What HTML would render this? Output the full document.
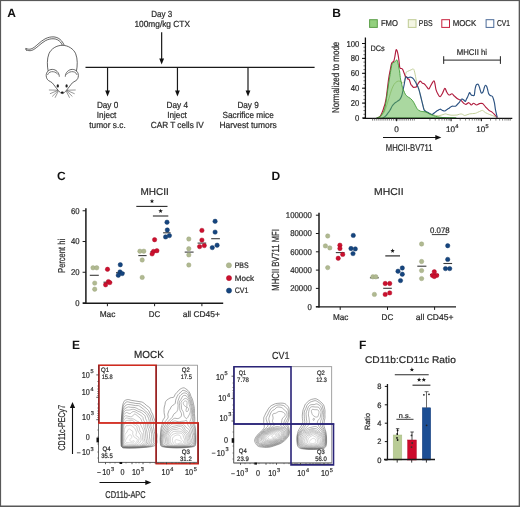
<!DOCTYPE html>
<html><head><meta charset="utf-8"><style>
html,body{margin:0;padding:0;background:#fff;}
body{width:520px;height:507px;overflow:hidden;}
svg{display:block;font-family:"Liberation Sans",sans-serif;will-change:transform;text-rendering:geometricPrecision;}
</style></head><body>
<svg width="520" height="507" viewBox="0 0 520 507" fill="#2b2b2b">
<rect x="0" y="0" width="520" height="507" fill="#fff"/>
<text x="7.20" y="17.00" font-size="12" font-weight="bold" fill="#111" >A</text>
<g fill="none" stroke="#333" stroke-width="0.75" stroke-linejoin="round" stroke-linecap="round">
<path d="M25.9,48.6 C27.5,49.2 29.5,49.4 31,49.0 C33.5,48.2 35.5,46.3 37.9,44.2 C40,42.3 42.5,40.2 45,38.9 C48,37.3 51,36.7 54,36.9 C57,37.2 59.6,38.6 61.5,40.8 C62.6,42.1 63.6,43.8 64.3,45.3" />
<path d="M26.4,50.1 C28,50.6 29.8,50.9 31.4,50.5 C34,49.8 36.2,47.8 38.6,45.8 C40.8,43.9 43.2,41.9 45.6,40.6 C48.4,39.1 51.2,38.6 54,38.8 C56.6,39.0 58.8,40.2 60.4,42.0 C61.3,43.1 62,44.3 62.6,45.7" />
<path d="M25.9,48.6 C25.3,49.2 25.6,49.9 26.4,50.1" />
<path d="M48.2,71.5 C47.0,65.5 46.9,59 48.9,53.8 C51,48.8 56.6,45.3 62.3,45.3 C68.0,45.3 73.6,48.8 75.7,53.8 C77.7,59 77.6,65.5 76.4,71.5" fill="#fff"/>
<path d="M59.3,76.3 C59.2,72.5 56,69.4 52.3,69.4 C48.5,69.4 46.1,72.4 46.2,75.6 C46.3,78 47.2,79.6 48.6,80.6 C50,81.6 51.4,82 52.2,82.8 C54.5,85.5 56.5,88.5 58.4,90.6 C59.6,92 60.8,93.4 62.3,93.6 C63.8,93.4 65,92 66.2,90.6 C68.1,88.5 70.1,85.5 72.4,82.8 C73.2,82 74.6,81.6 76,80.6 C77.4,79.6 78.3,78 78.4,75.6 C78.5,72.4 76.1,69.4 72.3,69.4 C68.6,69.4 65.4,72.5 65.3,76.3" fill="#fff"/>
<path d="M47.6,74.6 C48.6,72.2 51,71.4 53.2,71.7 C55.3,72 57,73 57.9,74.3" stroke="#777" stroke-width="1.0"/>
<path d="M77.0,74.6 C76.0,72.2 73.6,71.4 71.4,71.7 C69.3,72 67.6,73 66.7,74.3" stroke="#777" stroke-width="1.0"/>
<path d="M57.4,90.2 L49.3,90.0 M57.4,90.6 L50.3,93.6 M57.8,91.0 L52.5,96.2 M58.2,91.4 L55.2,97.4 M67.2,90.2 L75.3,90.0 M67.2,90.6 L74.3,93.6 M66.8,91.0 L72.1,96.2 M66.4,91.4 L69.4,97.4" stroke-width="0.55" stroke="#444"/>
</g>
<ellipse cx="57.8" cy="85.9" rx="1.15" ry="1.6" fill="#222"/>
<ellipse cx="66.6" cy="85.9" rx="1.15" ry="1.6" fill="#222"/>
<ellipse cx="62.3" cy="92.6" rx="1.4" ry="1.0" fill="#111"/>
<line x1="85.50" y1="67.40" x2="314.60" y2="67.40" stroke="#1a1a1a" stroke-width="1.25"/>
<line x1="161.65" y1="32.30" x2="161.65" y2="60.60" stroke="#1a1a1a" stroke-width="1.2"/>
<path d="M159.25,58.60 L164.05,58.60 L161.65,64.60 Z" fill="#111"/>
<line x1="107.55" y1="67.40" x2="107.55" y2="92.60" stroke="#1a1a1a" stroke-width="1.2"/>
<path d="M105.15,90.60 L109.95,90.60 L107.55,96.60 Z" fill="#111"/>
<line x1="177.45" y1="67.40" x2="177.45" y2="92.60" stroke="#1a1a1a" stroke-width="1.2"/>
<path d="M175.05,90.60 L179.85,90.60 L177.45,96.60 Z" fill="#111"/>
<line x1="248.00" y1="67.40" x2="248.00" y2="92.60" stroke="#1a1a1a" stroke-width="1.2"/>
<path d="M245.60,90.60 L250.40,90.60 L248.00,96.60 Z" fill="#111"/>
<text x="161.70" y="17.00" font-size="8.9" text-anchor="middle" stroke="#2b2b2b" stroke-width="0.22" textLength="21.00" lengthAdjust="spacingAndGlyphs" >Day 3</text>
<text x="162.20" y="27.40" font-size="8.9" text-anchor="middle" stroke="#2b2b2b" stroke-width="0.22" textLength="55.60" lengthAdjust="spacingAndGlyphs" >100mg/kg CTX</text>
<text x="107.60" y="108.00" font-size="8.9" text-anchor="middle" stroke="#2b2b2b" stroke-width="0.22" textLength="21.40" lengthAdjust="spacingAndGlyphs" >Day 0</text>
<text x="106.60" y="117.90" font-size="8.9" text-anchor="middle" stroke="#2b2b2b" stroke-width="0.22" textLength="19.60" lengthAdjust="spacingAndGlyphs" >Inject</text>
<text x="107.50" y="127.80" font-size="8.9" text-anchor="middle" stroke="#2b2b2b" stroke-width="0.22" textLength="36.40" lengthAdjust="spacingAndGlyphs" >tumor s.c.</text>
<text x="177.30" y="108.00" font-size="8.9" text-anchor="middle" stroke="#2b2b2b" stroke-width="0.22" textLength="21.50" lengthAdjust="spacingAndGlyphs" >Day 4</text>
<text x="177.00" y="117.90" font-size="8.9" text-anchor="middle" stroke="#2b2b2b" stroke-width="0.22" textLength="19.60" lengthAdjust="spacingAndGlyphs" >Inject</text>
<text x="177.30" y="127.80" font-size="8.9" text-anchor="middle" stroke="#2b2b2b" stroke-width="0.22" textLength="53.00" lengthAdjust="spacingAndGlyphs" >CAR T cells IV</text>
<text x="248.10" y="108.00" font-size="8.9" text-anchor="middle" stroke="#2b2b2b" stroke-width="0.22" textLength="21.30" lengthAdjust="spacingAndGlyphs" >Day 9</text>
<text x="248.10" y="117.90" font-size="8.9" text-anchor="middle" stroke="#2b2b2b" stroke-width="0.22" textLength="51.30" lengthAdjust="spacingAndGlyphs" >Sacrifice mice</text>
<text x="248.10" y="127.80" font-size="8.9" text-anchor="middle" stroke="#2b2b2b" stroke-width="0.22" textLength="57.20" lengthAdjust="spacingAndGlyphs" >Harvest tumors</text>
<text x="332.20" y="16.90" font-size="12" font-weight="bold" fill="#111" >B</text>
<rect x="369.6" y="19.7" width="7.7" height="7.7" fill="#93d07e" stroke="#5b9e48" stroke-width="1.0"/>
<rect x="408.3" y="19.7" width="7.7" height="7.7" fill="#f4f6e4" stroke="#bfcb94" stroke-width="1.0"/>
<rect x="441.8" y="19.7" width="7.7" height="7.7" fill="#fff" stroke="#c8203c" stroke-width="1.0"/>
<rect x="486.1" y="19.7" width="7.7" height="7.7" fill="#fff" stroke="#4b6a98" stroke-width="1.0"/>
<text x="380.90" y="25.90" font-size="8.5" stroke="#2b2b2b" stroke-width="0.22" textLength="17.00" lengthAdjust="spacingAndGlyphs" >FMO</text>
<text x="418.80" y="25.90" font-size="8.5" stroke="#2b2b2b" stroke-width="0.22" textLength="13.80" lengthAdjust="spacingAndGlyphs" >PBS</text>
<text x="452.70" y="25.90" font-size="8.5" stroke="#2b2b2b" stroke-width="0.22" textLength="23.50" lengthAdjust="spacingAndGlyphs" >MOCK</text>
<text x="497.00" y="25.90" font-size="8.5" stroke="#2b2b2b" stroke-width="0.22" textLength="13.00" lengthAdjust="spacingAndGlyphs" >CV1</text>
<line x1="363.40" y1="118.00" x2="365.40" y2="118.00" stroke="#444" stroke-width="0.75"/>
<line x1="363.40" y1="114.28" x2="365.40" y2="114.28" stroke="#444" stroke-width="0.75"/>
<line x1="363.40" y1="110.55" x2="365.40" y2="110.55" stroke="#444" stroke-width="0.75"/>
<line x1="363.40" y1="106.83" x2="365.40" y2="106.83" stroke="#444" stroke-width="0.75"/>
<line x1="363.40" y1="103.10" x2="365.40" y2="103.10" stroke="#444" stroke-width="0.75"/>
<line x1="363.40" y1="99.38" x2="365.40" y2="99.38" stroke="#444" stroke-width="0.75"/>
<line x1="363.40" y1="95.65" x2="365.40" y2="95.65" stroke="#444" stroke-width="0.75"/>
<line x1="363.40" y1="91.92" x2="365.40" y2="91.92" stroke="#444" stroke-width="0.75"/>
<line x1="363.40" y1="88.20" x2="365.40" y2="88.20" stroke="#444" stroke-width="0.75"/>
<line x1="363.40" y1="84.47" x2="365.40" y2="84.47" stroke="#444" stroke-width="0.75"/>
<line x1="363.40" y1="80.75" x2="365.40" y2="80.75" stroke="#444" stroke-width="0.75"/>
<line x1="363.40" y1="77.03" x2="365.40" y2="77.03" stroke="#444" stroke-width="0.75"/>
<line x1="363.40" y1="73.30" x2="365.40" y2="73.30" stroke="#444" stroke-width="0.75"/>
<line x1="363.40" y1="69.58" x2="365.40" y2="69.58" stroke="#444" stroke-width="0.75"/>
<line x1="363.40" y1="65.85" x2="365.40" y2="65.85" stroke="#444" stroke-width="0.75"/>
<line x1="363.40" y1="62.12" x2="365.40" y2="62.12" stroke="#444" stroke-width="0.75"/>
<line x1="363.40" y1="58.40" x2="365.40" y2="58.40" stroke="#444" stroke-width="0.75"/>
<line x1="363.40" y1="54.67" x2="365.40" y2="54.67" stroke="#444" stroke-width="0.75"/>
<line x1="363.40" y1="50.95" x2="365.40" y2="50.95" stroke="#444" stroke-width="0.75"/>
<line x1="363.40" y1="47.22" x2="365.40" y2="47.22" stroke="#444" stroke-width="0.75"/>
<line x1="363.40" y1="43.50" x2="365.40" y2="43.50" stroke="#444" stroke-width="0.75"/>
<line x1="362.00" y1="118.00" x2="365.40" y2="118.00" stroke="#111" stroke-width="1.0"/>
<text x="359.40" y="121.00" font-size="8.6" text-anchor="end" stroke="#2b2b2b" stroke-width="0.22" textLength="4.30" lengthAdjust="spacingAndGlyphs" >0</text>
<line x1="362.00" y1="103.10" x2="365.40" y2="103.10" stroke="#111" stroke-width="1.0"/>
<text x="359.40" y="106.10" font-size="8.6" text-anchor="end" stroke="#2b2b2b" stroke-width="0.22" textLength="8.60" lengthAdjust="spacingAndGlyphs" >20</text>
<line x1="362.00" y1="88.20" x2="365.40" y2="88.20" stroke="#111" stroke-width="1.0"/>
<text x="359.40" y="91.20" font-size="8.6" text-anchor="end" stroke="#2b2b2b" stroke-width="0.22" textLength="8.60" lengthAdjust="spacingAndGlyphs" >40</text>
<line x1="362.00" y1="73.30" x2="365.40" y2="73.30" stroke="#111" stroke-width="1.0"/>
<text x="359.40" y="76.30" font-size="8.6" text-anchor="end" stroke="#2b2b2b" stroke-width="0.22" textLength="8.60" lengthAdjust="spacingAndGlyphs" >60</text>
<line x1="362.00" y1="58.40" x2="365.40" y2="58.40" stroke="#111" stroke-width="1.0"/>
<text x="359.40" y="61.40" font-size="8.6" text-anchor="end" stroke="#2b2b2b" stroke-width="0.22" textLength="8.60" lengthAdjust="spacingAndGlyphs" >80</text>
<line x1="362.00" y1="43.50" x2="365.40" y2="43.50" stroke="#111" stroke-width="1.0"/>
<text x="359.40" y="46.50" font-size="8.6" text-anchor="end" stroke="#2b2b2b" stroke-width="0.22" textLength="12.90" lengthAdjust="spacingAndGlyphs" >100</text>
<line x1="365.40" y1="37.50" x2="365.40" y2="118.50" stroke="#111" stroke-width="1.3"/>
<text x="339.30" y="77.40" font-size="10.0" text-anchor="middle" stroke="#2b2b2b" stroke-width="0.22" textLength="71.30" lengthAdjust="spacingAndGlyphs" transform="rotate(-90 339.30 77.40)" >Normalized to mode</text>
<text x="370.40" y="51.30" font-size="8.0" stroke="#2b2b2b" stroke-width="0.22" textLength="14.30" lengthAdjust="spacingAndGlyphs" >DCs</text>
<path d="M378.00,118.00 C378.50,117.67 380.00,116.92 381.00,116.00 C382.00,115.08 383.08,114.17 384.00,112.50 C384.92,110.83 385.67,108.42 386.50,106.00 C387.33,103.58 388.17,100.67 389.00,98.00 C389.83,95.33 390.67,92.25 391.50,90.00 C392.33,87.75 393.08,85.92 394.00,84.50 C394.92,83.08 396.00,82.05 397.00,81.50 C398.00,80.95 399.08,80.98 400.00,81.20 C400.92,81.42 401.85,82.67 402.50,82.80 C403.15,82.93 403.48,82.88 403.90,82.00 C404.32,81.12 404.62,79.10 405.00,77.50 C405.38,75.90 405.77,73.42 406.20,72.40 C406.63,71.38 407.10,71.68 407.60,71.40 C408.10,71.12 408.60,70.97 409.20,70.70 C409.80,70.43 410.52,70.10 411.20,69.80 C411.88,69.50 412.80,68.78 413.30,68.90 C413.80,69.02 413.90,69.62 414.20,70.50 C414.50,71.38 414.80,72.78 415.10,74.20 C415.40,75.62 415.70,77.42 416.00,79.00 C416.30,80.58 416.45,82.13 416.90,83.70 C417.35,85.27 418.12,86.43 418.70,88.40 C419.28,90.37 419.85,93.32 420.40,95.50 C420.95,97.68 421.47,99.50 422.00,101.50 C422.53,103.50 423.02,105.88 423.60,107.50 C424.18,109.12 424.77,110.28 425.50,111.20 C426.23,112.12 427.08,112.50 428.00,113.00 C428.92,113.50 430.00,113.87 431.00,114.20 C432.00,114.53 433.00,114.75 434.00,115.00 C435.00,115.25 436.00,115.62 437.00,115.70 C438.00,115.78 439.00,115.68 440.00,115.50 C441.00,115.32 442.08,114.87 443.00,114.60 C443.92,114.33 444.67,113.90 445.50,113.90 C446.33,113.90 447.08,114.38 448.00,114.60 C448.92,114.82 450.00,115.10 451.00,115.20 C452.00,115.30 453.00,115.23 454.00,115.20 C455.00,115.17 456.08,115.17 457.00,115.00 C457.92,114.83 458.75,114.37 459.50,114.20 C460.25,114.03 460.92,113.93 461.50,114.00 C462.08,114.07 462.47,114.35 463.00,114.60 C463.53,114.85 464.03,115.47 464.70,115.50 C465.37,115.53 466.20,115.07 467.00,114.80 C467.80,114.53 468.58,114.10 469.50,113.90 C470.42,113.70 471.52,113.70 472.50,113.60 C473.48,113.50 474.57,113.50 475.40,113.30 C476.23,113.10 476.82,112.70 477.50,112.40 C478.18,112.10 478.92,111.77 479.50,111.50 C480.08,111.23 480.50,110.98 481.00,110.80 C481.50,110.62 482.00,110.28 482.50,110.40 C483.00,110.52 483.50,111.12 484.00,111.50 C484.50,111.88 484.92,112.35 485.50,112.70 C486.08,113.05 486.82,113.30 487.50,113.60 C488.18,113.90 488.77,114.17 489.60,114.50 C490.43,114.83 491.52,115.20 492.50,115.60 C493.48,116.00 494.70,116.50 495.50,116.90 C496.30,117.30 497.00,117.82 497.30,118.00" stroke="#bcc98e" stroke-width="0.9" fill="none" stroke-linejoin="round" />
<path d="M377.00,118.00 C377.50,117.75 379.08,117.58 380.00,116.50 C380.92,115.42 381.83,113.08 382.50,111.50 C383.17,109.92 383.58,108.25 384.00,107.00 C384.42,105.75 384.58,105.83 385.00,104.00 C385.42,102.17 385.90,100.17 386.50,96.00 C387.10,91.83 387.98,83.33 388.60,79.00 C389.22,74.67 389.70,72.58 390.20,70.00 C390.70,67.42 391.13,64.87 391.60,63.50 C392.07,62.13 392.63,62.18 393.00,61.80 C393.37,61.42 393.50,62.00 393.80,61.20 C394.10,60.40 394.43,58.83 394.80,57.00 C395.17,55.17 395.63,51.27 396.00,50.20 C396.37,49.13 396.63,49.75 397.00,50.60 C397.37,51.45 397.85,53.43 398.20,55.30 C398.55,57.17 398.85,59.82 399.10,61.80 C399.35,63.78 399.50,66.12 399.70,67.20 C399.90,68.28 399.93,68.07 400.30,68.30 C400.67,68.53 401.50,68.40 401.90,68.60 C402.30,68.80 402.33,68.77 402.70,69.50 C403.07,70.23 403.62,71.78 404.10,73.00 C404.58,74.22 405.15,76.10 405.60,76.80 C406.05,77.50 406.43,76.83 406.80,77.20 C407.17,77.57 407.40,78.62 407.80,79.00 C408.20,79.38 408.70,78.62 409.20,79.50 C409.70,80.38 410.40,83.35 410.80,84.30 C411.20,85.25 411.18,84.72 411.60,85.20 C412.02,85.68 412.70,86.87 413.30,87.20 C413.90,87.53 414.70,87.27 415.20,87.20 C415.70,87.13 415.82,87.38 416.30,86.80 C416.78,86.22 417.50,84.62 418.10,83.70 C418.70,82.78 419.42,81.65 419.90,81.30 C420.38,80.95 420.62,81.30 421.00,81.60 C421.38,81.90 421.77,82.77 422.20,83.10 C422.63,83.43 423.10,83.30 423.60,83.60 C424.10,83.90 424.72,84.42 425.20,84.90 C425.68,85.38 425.92,85.82 426.50,86.50 C427.08,87.18 428.07,89.00 428.70,89.00 C429.33,89.00 429.78,87.38 430.30,86.50 C430.82,85.62 431.18,84.67 431.80,83.70 C432.42,82.73 433.47,80.65 434.00,80.70 C434.53,80.75 434.67,82.52 435.00,84.00 C435.33,85.48 435.53,87.97 436.00,89.60 C436.47,91.23 437.12,92.62 437.80,93.80 C438.48,94.98 439.32,96.80 440.10,96.70 C440.88,96.60 441.70,94.58 442.50,93.20 C443.30,91.82 444.20,88.60 444.90,88.40 C445.60,88.20 446.02,90.90 446.70,92.00 C447.38,93.10 448.12,94.70 449.00,95.00 C449.88,95.30 451.10,93.62 452.00,93.80 C452.90,93.98 453.42,95.22 454.40,96.10 C455.38,96.98 456.82,98.40 457.90,99.10 C458.98,99.80 459.95,99.62 460.90,100.30 C461.85,100.98 462.77,102.52 463.60,103.20 C464.43,103.88 465.02,104.48 465.90,104.40 C466.78,104.32 468.00,102.60 468.90,102.70 C469.80,102.80 470.52,104.92 471.30,105.00 C472.08,105.08 472.72,103.20 473.60,103.20 C474.48,103.20 475.62,104.93 476.60,105.00 C477.58,105.07 478.52,103.83 479.50,103.60 C480.48,103.37 481.50,103.07 482.50,103.60 C483.50,104.13 484.42,105.67 485.50,106.80 C486.58,107.93 487.92,109.52 489.00,110.40 C490.08,111.28 491.00,111.32 492.00,112.10 C493.00,112.88 494.12,114.17 495.00,115.10 C495.88,116.03 496.92,117.27 497.30,117.70" stroke="#b01c3e" stroke-width="1.15" fill="none" stroke-linejoin="round" />
<path d="M382.70,118.00 C383.17,117.70 384.62,117.03 385.50,116.20 C386.38,115.37 387.23,114.03 388.00,113.00 C388.77,111.97 389.40,111.17 390.10,110.00 C390.80,108.83 391.47,107.12 392.20,106.00 C392.93,104.88 393.70,104.03 394.50,103.30 C395.30,102.57 396.13,102.22 397.00,101.60 C397.87,100.98 399.00,100.37 399.70,99.60 C400.40,98.83 400.80,97.88 401.20,97.00 C401.60,96.12 401.65,96.13 402.10,94.30 C402.55,92.47 403.45,88.22 403.90,86.00 C404.35,83.78 404.50,82.47 404.80,81.00 C405.10,79.53 405.33,77.83 405.70,77.20 C406.07,76.57 406.62,77.10 407.00,77.20 C407.38,77.30 407.58,77.80 408.00,77.80 C408.42,77.80 409.00,77.30 409.50,77.20 C410.00,77.10 410.50,77.07 411.00,77.20 C411.50,77.33 412.02,77.62 412.50,78.00 C412.98,78.38 413.40,78.83 413.90,79.50 C414.40,80.17 415.00,81.10 415.50,82.00 C416.00,82.90 416.45,83.97 416.90,84.90 C417.35,85.83 417.80,86.62 418.20,87.60 C418.60,88.58 418.92,89.48 419.30,90.80 C419.68,92.12 420.12,93.93 420.50,95.50 C420.88,97.07 421.22,98.62 421.60,100.20 C421.98,101.78 422.40,103.42 422.80,105.00 C423.20,106.58 423.55,108.67 424.00,109.70 C424.45,110.73 425.00,110.82 425.50,111.20 C426.00,111.58 426.33,111.62 427.00,112.00 C427.67,112.38 428.70,113.08 429.50,113.50 C430.30,113.92 431.13,114.48 431.80,114.50 C432.47,114.52 432.90,114.00 433.50,113.60 C434.10,113.20 434.73,112.60 435.40,112.10 C436.07,111.60 436.72,111.08 437.50,110.60 C438.28,110.12 439.27,109.22 440.10,109.20 C440.93,109.18 441.70,110.20 442.50,110.50 C443.30,110.80 444.23,111.12 444.90,111.00 C445.57,110.88 445.92,110.20 446.50,109.80 C447.08,109.40 447.77,109.02 448.40,108.60 C449.03,108.18 449.70,107.70 450.30,107.30 C450.90,106.90 451.13,106.38 452.00,106.20 C452.87,106.02 454.62,106.48 455.50,106.20 C456.38,105.92 456.70,105.08 457.30,104.50 C457.90,103.92 458.60,103.32 459.10,102.70 C459.60,102.08 459.90,101.40 460.30,100.80 C460.70,100.20 461.15,99.38 461.50,99.10 C461.85,98.82 462.02,98.95 462.40,99.10 C462.78,99.25 463.32,99.60 463.80,100.00 C464.28,100.40 464.85,101.67 465.30,101.50 C465.75,101.33 466.10,99.80 466.50,99.00 C466.90,98.20 467.20,97.77 467.70,96.70 C468.20,95.63 469.07,93.12 469.50,92.60 C469.93,92.08 470.00,93.20 470.30,93.60 C470.60,94.00 470.85,94.68 471.30,95.00 C471.75,95.32 472.50,95.50 473.00,95.50 C473.50,95.50 473.95,96.08 474.30,95.00 C474.65,93.92 474.80,90.63 475.10,89.00 C475.40,87.37 475.73,86.00 476.10,85.20 C476.47,84.40 476.88,84.23 477.30,84.20 C477.72,84.17 478.18,84.28 478.60,85.00 C479.02,85.72 479.40,87.25 479.80,88.50 C480.20,89.75 480.63,91.75 481.00,92.50 C481.37,93.25 481.63,93.17 482.00,93.00 C482.37,92.83 482.78,92.50 483.20,91.50 C483.62,90.50 484.10,88.03 484.50,87.00 C484.90,85.97 485.23,85.38 485.60,85.30 C485.97,85.22 486.37,85.80 486.70,86.50 C487.03,87.20 487.28,88.33 487.60,89.50 C487.92,90.67 488.17,92.50 488.60,93.50 C489.03,94.50 489.53,94.97 490.20,95.50 C490.87,96.03 491.90,95.50 492.60,96.70 C493.30,97.90 493.92,100.52 494.40,102.70 C494.88,104.88 495.02,107.33 495.50,109.80 C495.98,112.27 497.00,116.22 497.30,117.50" stroke="#2b5282" stroke-width="1.15" fill="none" stroke-linejoin="round" />
<path d="M376.50,118.00 C377.08,117.75 379.00,117.25 380.00,116.50 C381.00,115.75 381.80,114.58 382.50,113.50 C383.20,112.42 383.65,111.75 384.20,110.00 C384.75,108.25 385.30,105.72 385.80,103.00 C386.30,100.28 386.73,96.87 387.20,93.70 C387.67,90.53 388.12,87.20 388.60,84.00 C389.08,80.80 389.63,77.33 390.10,74.50 C390.57,71.67 391.03,68.83 391.40,67.00 C391.77,65.17 391.90,64.27 392.30,63.50 C392.70,62.73 393.28,62.73 393.80,62.40 C394.32,62.07 394.90,61.93 395.40,61.50 C395.90,61.07 396.37,59.55 396.80,59.80 C397.23,60.05 397.63,61.57 398.00,63.00 C398.37,64.43 398.72,66.90 399.00,68.40 C399.28,69.90 399.45,70.23 399.70,72.00 C399.95,73.77 400.20,77.17 400.50,79.00 C400.80,80.83 401.13,81.42 401.50,83.00 C401.87,84.58 402.30,87.17 402.70,88.50 C403.10,89.83 403.47,90.05 403.90,91.00 C404.33,91.95 404.78,93.33 405.30,94.20 C405.82,95.07 406.45,95.68 407.00,96.20 C407.55,96.72 408.03,96.93 408.60,97.30 C409.17,97.67 409.80,97.92 410.40,98.40 C411.00,98.88 411.68,99.60 412.20,100.20 C412.72,100.80 413.12,101.40 413.50,102.00 C413.88,102.60 414.03,102.92 414.50,103.80 C414.97,104.68 415.78,106.37 416.30,107.30 C416.82,108.23 417.20,108.90 417.60,109.40 C418.00,109.90 418.22,110.00 418.70,110.30 C419.18,110.60 419.92,111.00 420.50,111.20 C421.08,111.40 421.32,111.37 422.20,111.50 C423.08,111.63 424.62,111.62 425.80,112.00 C426.98,112.38 428.27,113.30 429.30,113.80 C430.33,114.30 430.98,114.60 432.00,115.00 C433.02,115.40 434.07,115.83 435.40,116.20 C436.73,116.57 438.23,116.93 440.00,117.20 C441.77,117.47 444.00,117.67 446.00,117.80 C448.00,117.93 463.58,117.97 452.00,118.00 C440.42,118.03 389.08,118.00 376.50,118.00" stroke="#3f9a35" stroke-width="0.9" fill="#5cb548" stroke-linejoin="round" fill-opacity="0.52"/>
<line x1="363.00" y1="118.30" x2="512.30" y2="118.30" stroke="#111" stroke-width="1.3"/>
<line x1="372.50" y1="118.30" x2="372.50" y2="120.60" stroke="#333" stroke-width="0.6"/>
<line x1="374.40" y1="118.30" x2="374.40" y2="120.60" stroke="#333" stroke-width="0.6"/>
<line x1="376.30" y1="118.30" x2="376.30" y2="120.60" stroke="#333" stroke-width="0.6"/>
<line x1="378.20" y1="118.30" x2="378.20" y2="120.60" stroke="#333" stroke-width="0.6"/>
<line x1="380.10" y1="118.30" x2="380.10" y2="120.60" stroke="#333" stroke-width="0.6"/>
<line x1="382.00" y1="118.30" x2="382.00" y2="120.60" stroke="#333" stroke-width="0.6"/>
<line x1="383.90" y1="118.30" x2="383.90" y2="120.60" stroke="#333" stroke-width="0.6"/>
<line x1="385.80" y1="118.30" x2="385.80" y2="120.60" stroke="#333" stroke-width="0.6"/>
<line x1="387.70" y1="118.30" x2="387.70" y2="120.60" stroke="#333" stroke-width="0.6"/>
<line x1="389.60" y1="118.30" x2="389.60" y2="120.60" stroke="#333" stroke-width="0.6"/>
<line x1="391.50" y1="118.30" x2="391.50" y2="120.60" stroke="#333" stroke-width="0.6"/>
<line x1="393.40" y1="118.30" x2="393.40" y2="120.60" stroke="#333" stroke-width="0.6"/>
<line x1="395.30" y1="118.30" x2="395.30" y2="120.60" stroke="#333" stroke-width="0.6"/>
<line x1="397.20" y1="118.30" x2="397.20" y2="120.60" stroke="#333" stroke-width="0.6"/>
<line x1="399.10" y1="118.30" x2="399.10" y2="120.60" stroke="#333" stroke-width="0.6"/>
<line x1="401.00" y1="118.30" x2="401.00" y2="120.60" stroke="#333" stroke-width="0.6"/>
<line x1="402.90" y1="118.30" x2="402.90" y2="120.60" stroke="#333" stroke-width="0.6"/>
<line x1="404.80" y1="118.30" x2="404.80" y2="120.60" stroke="#333" stroke-width="0.6"/>
<line x1="406.70" y1="118.30" x2="406.70" y2="120.60" stroke="#333" stroke-width="0.6"/>
<line x1="408.60" y1="118.30" x2="408.60" y2="120.60" stroke="#333" stroke-width="0.6"/>
<line x1="410.50" y1="118.30" x2="410.50" y2="120.60" stroke="#333" stroke-width="0.6"/>
<line x1="412.40" y1="118.30" x2="412.40" y2="120.60" stroke="#333" stroke-width="0.6"/>
<line x1="414.30" y1="118.30" x2="414.30" y2="120.60" stroke="#333" stroke-width="0.6"/>
<line x1="429.92" y1="118.30" x2="429.92" y2="120.60" stroke="#333" stroke-width="0.6"/>
<line x1="435.26" y1="118.30" x2="435.26" y2="120.60" stroke="#333" stroke-width="0.6"/>
<line x1="439.04" y1="118.30" x2="439.04" y2="120.60" stroke="#333" stroke-width="0.6"/>
<line x1="441.98" y1="118.30" x2="441.98" y2="120.60" stroke="#333" stroke-width="0.6"/>
<line x1="444.38" y1="118.30" x2="444.38" y2="120.60" stroke="#333" stroke-width="0.6"/>
<line x1="446.41" y1="118.30" x2="446.41" y2="120.60" stroke="#333" stroke-width="0.6"/>
<line x1="448.16" y1="118.30" x2="448.16" y2="120.60" stroke="#333" stroke-width="0.6"/>
<line x1="449.71" y1="118.30" x2="449.71" y2="120.60" stroke="#333" stroke-width="0.6"/>
<line x1="460.22" y1="118.30" x2="460.22" y2="120.60" stroke="#333" stroke-width="0.6"/>
<line x1="465.56" y1="118.30" x2="465.56" y2="120.60" stroke="#333" stroke-width="0.6"/>
<line x1="469.34" y1="118.30" x2="469.34" y2="120.60" stroke="#333" stroke-width="0.6"/>
<line x1="472.28" y1="118.30" x2="472.28" y2="120.60" stroke="#333" stroke-width="0.6"/>
<line x1="474.68" y1="118.30" x2="474.68" y2="120.60" stroke="#333" stroke-width="0.6"/>
<line x1="476.71" y1="118.30" x2="476.71" y2="120.60" stroke="#333" stroke-width="0.6"/>
<line x1="478.46" y1="118.30" x2="478.46" y2="120.60" stroke="#333" stroke-width="0.6"/>
<line x1="480.01" y1="118.30" x2="480.01" y2="120.60" stroke="#333" stroke-width="0.6"/>
<line x1="490.52" y1="118.30" x2="490.52" y2="120.60" stroke="#333" stroke-width="0.6"/>
<line x1="495.86" y1="118.30" x2="495.86" y2="120.60" stroke="#333" stroke-width="0.6"/>
<line x1="499.64" y1="118.30" x2="499.64" y2="120.60" stroke="#333" stroke-width="0.6"/>
<line x1="502.58" y1="118.30" x2="502.58" y2="120.60" stroke="#333" stroke-width="0.6"/>
<line x1="504.98" y1="118.30" x2="504.98" y2="120.60" stroke="#333" stroke-width="0.6"/>
<line x1="507.01" y1="118.30" x2="507.01" y2="120.60" stroke="#333" stroke-width="0.6"/>
<line x1="508.76" y1="118.30" x2="508.76" y2="120.60" stroke="#333" stroke-width="0.6"/>
<line x1="510.31" y1="118.30" x2="510.31" y2="120.60" stroke="#333" stroke-width="0.6"/>
<line x1="396.60" y1="118.30" x2="396.60" y2="121.20" stroke="#111" stroke-width="1.0"/>
<line x1="451.10" y1="118.30" x2="451.10" y2="121.20" stroke="#111" stroke-width="1.0"/>
<line x1="481.40" y1="118.30" x2="481.40" y2="121.20" stroke="#111" stroke-width="1.0"/>
<text x="396.60" y="132.40" font-size="8.2" text-anchor="middle" stroke="#2b2b2b" stroke-width="0.22" >0</text>
<text x="446.00" y="132.40" font-size="8.2" stroke="#2b2b2b" stroke-width="0.22" >10</text>
<text x="455.20" y="128.40" font-size="5.6" stroke="#2b2b2b" stroke-width="0.22" >4</text>
<text x="476.30" y="132.40" font-size="8.2" stroke="#2b2b2b" stroke-width="0.22" >10</text>
<text x="485.50" y="128.40" font-size="5.6" stroke="#2b2b2b" stroke-width="0.22" >5</text>
<line x1="383.00" y1="137.50" x2="437.30" y2="137.50" stroke="#111" stroke-width="1.1"/>
<path d="M435.30,134.90 L435.30,140.10 L441.30,137.50 Z" fill="#111"/>
<text x="385.80" y="150.90" font-size="9.7" stroke="#2b2b2b" stroke-width="0.22" textLength="46.80" lengthAdjust="spacingAndGlyphs" >MHCII-BV711</text>
<line x1="443.50" y1="60.10" x2="500.60" y2="60.10" stroke="#222" stroke-width="1.0"/>
<line x1="443.70" y1="56.20" x2="443.70" y2="63.90" stroke="#222" stroke-width="1.0"/>
<line x1="500.40" y1="56.20" x2="500.40" y2="63.90" stroke="#222" stroke-width="1.0"/>
<text x="456.80" y="55.40" font-size="8.3" stroke="#2b2b2b" stroke-width="0.22" textLength="30.20" lengthAdjust="spacingAndGlyphs" >MHCII hi</text>
<text x="57.00" y="179.70" font-size="12" font-weight="bold" fill="#111" >C</text>
<text x="154.60" y="194.80" font-size="10.0" text-anchor="middle" stroke="#2b2b2b" stroke-width="0.22" textLength="28.30" lengthAdjust="spacingAndGlyphs" >MHCII</text>
<line x1="85.90" y1="208.20" x2="85.90" y2="303.90" stroke="#1a1a1a" stroke-width="1.5"/>
<line x1="82.60" y1="303.00" x2="85.90" y2="303.00" stroke="#1a1a1a" stroke-width="1.0"/>
<text x="79.60" y="305.90" font-size="8.4" text-anchor="end" stroke="#2b2b2b" stroke-width="0.22" textLength="4.30" lengthAdjust="spacingAndGlyphs" >0</text>
<line x1="82.60" y1="272.26" x2="85.90" y2="272.26" stroke="#1a1a1a" stroke-width="1.0"/>
<text x="79.60" y="275.16" font-size="8.4" text-anchor="end" stroke="#2b2b2b" stroke-width="0.22" textLength="8.60" lengthAdjust="spacingAndGlyphs" >20</text>
<line x1="82.60" y1="241.52" x2="85.90" y2="241.52" stroke="#1a1a1a" stroke-width="1.0"/>
<text x="79.60" y="244.42" font-size="8.4" text-anchor="end" stroke="#2b2b2b" stroke-width="0.22" textLength="8.60" lengthAdjust="spacingAndGlyphs" >40</text>
<line x1="82.60" y1="210.78" x2="85.90" y2="210.78" stroke="#1a1a1a" stroke-width="1.0"/>
<text x="79.60" y="213.68" font-size="8.4" text-anchor="end" stroke="#2b2b2b" stroke-width="0.22" textLength="8.60" lengthAdjust="spacingAndGlyphs" >60</text>
<text x="64.80" y="255.90" font-size="10.0" text-anchor="middle" stroke="#2b2b2b" stroke-width="0.22" textLength="34.00" lengthAdjust="spacingAndGlyphs" transform="rotate(-90 64.80 255.90)" >Percent hi</text>
<line x1="82.80" y1="303.20" x2="223.20" y2="303.20" stroke="#1a1a1a" stroke-width="1.4"/>
<line x1="107.40" y1="303.20" x2="107.40" y2="306.20" stroke="#1a1a1a" stroke-width="1.0"/>
<line x1="154.60" y1="303.20" x2="154.60" y2="306.20" stroke="#1a1a1a" stroke-width="1.0"/>
<line x1="201.90" y1="303.20" x2="201.90" y2="306.20" stroke="#1a1a1a" stroke-width="1.0"/>
<text x="107.50" y="316.50" font-size="8.4" text-anchor="middle" stroke="#2b2b2b" stroke-width="0.22" textLength="15.70" lengthAdjust="spacingAndGlyphs" >Mac</text>
<text x="154.50" y="316.50" font-size="8.4" text-anchor="middle" stroke="#2b2b2b" stroke-width="0.22" textLength="11.50" lengthAdjust="spacingAndGlyphs" >DC</text>
<text x="201.30" y="316.50" font-size="8.4" text-anchor="middle" stroke="#2b2b2b" stroke-width="0.22" textLength="37.10" lengthAdjust="spacingAndGlyphs" >all CD45+</text>
<line x1="136.30" y1="206.40" x2="167.50" y2="206.40" stroke="#2a2a2a" stroke-width="1.1"/>
<line x1="152.90" y1="216.00" x2="168.30" y2="216.00" stroke="#2a2a2a" stroke-width="1.1"/>
<path d="M152.00,198.85 L152.59,200.39 L154.23,200.47 L152.95,201.51 L153.38,203.10 L152.00,202.20 L150.62,203.10 L151.05,201.51 L149.77,200.47 L151.41,200.39 Z" fill="#1a1a1a"/>
<path d="M160.60,208.75 L161.19,210.29 L162.83,210.37 L161.55,211.41 L161.98,213.00 L160.60,212.10 L159.22,213.00 L159.65,211.41 L158.37,210.37 L160.01,210.29 Z" fill="#1a1a1a"/>
<line x1="89.80" y1="275.30" x2="98.80" y2="275.30" stroke="#3a3a3a" stroke-width="1.1"/>
<line x1="103.50" y1="282.20" x2="112.00" y2="282.20" stroke="#3a3a3a" stroke-width="1.1"/>
<line x1="116.00" y1="272.70" x2="124.50" y2="272.70" stroke="#3a3a3a" stroke-width="1.1"/>
<line x1="138.30" y1="255.60" x2="146.60" y2="255.60" stroke="#3a3a3a" stroke-width="1.1"/>
<line x1="150.50" y1="251.50" x2="158.50" y2="251.50" stroke="#3a3a3a" stroke-width="1.1"/>
<line x1="163.10" y1="232.80" x2="170.60" y2="232.80" stroke="#3a3a3a" stroke-width="1.1"/>
<line x1="184.70" y1="252.10" x2="193.60" y2="252.10" stroke="#3a3a3a" stroke-width="1.1"/>
<line x1="197.60" y1="243.10" x2="206.20" y2="243.10" stroke="#3a3a3a" stroke-width="1.1"/>
<line x1="211.20" y1="238.70" x2="219.90" y2="238.70" stroke="#3a3a3a" stroke-width="1.1"/>
<circle cx="93.00" cy="267.80" r="2.20" fill="#b0b991" stroke="#9da67e" stroke-width="0.45"/>
<circle cx="96.70" cy="267.80" r="2.20" fill="#b0b991" stroke="#9da67e" stroke-width="0.45"/>
<circle cx="94.70" cy="283.10" r="2.20" fill="#b0b991" stroke="#9da67e" stroke-width="0.45"/>
<circle cx="94.70" cy="289.20" r="2.20" fill="#b0b991" stroke="#9da67e" stroke-width="0.45"/>
<circle cx="139.90" cy="251.20" r="2.20" fill="#b0b991" stroke="#9da67e" stroke-width="0.45"/>
<circle cx="143.80" cy="251.20" r="2.20" fill="#b0b991" stroke="#9da67e" stroke-width="0.45"/>
<circle cx="142.20" cy="260.00" r="2.20" fill="#b0b991" stroke="#9da67e" stroke-width="0.45"/>
<circle cx="142.20" cy="277.40" r="2.20" fill="#b0b991" stroke="#9da67e" stroke-width="0.45"/>
<circle cx="188.80" cy="239.00" r="2.20" fill="#b0b991" stroke="#9da67e" stroke-width="0.45"/>
<circle cx="188.80" cy="248.70" r="2.20" fill="#b0b991" stroke="#9da67e" stroke-width="0.45"/>
<circle cx="188.80" cy="254.90" r="2.20" fill="#b0b991" stroke="#9da67e" stroke-width="0.45"/>
<circle cx="188.80" cy="265.00" r="2.20" fill="#b0b991" stroke="#9da67e" stroke-width="0.45"/>
<circle cx="107.50" cy="269.30" r="2.20" fill="#cc102e" stroke="#aa0c26" stroke-width="0.45"/>
<circle cx="108.40" cy="281.60" r="2.20" fill="#cc102e" stroke="#aa0c26" stroke-width="0.45"/>
<circle cx="109.80" cy="282.60" r="2.20" fill="#cc102e" stroke="#aa0c26" stroke-width="0.45"/>
<circle cx="105.60" cy="284.80" r="2.20" fill="#cc102e" stroke="#aa0c26" stroke-width="0.45"/>
<circle cx="154.60" cy="239.70" r="2.20" fill="#cc102e" stroke="#aa0c26" stroke-width="0.45"/>
<circle cx="153.50" cy="251.40" r="2.20" fill="#cc102e" stroke="#aa0c26" stroke-width="0.45"/>
<circle cx="156.90" cy="250.70" r="2.20" fill="#cc102e" stroke="#aa0c26" stroke-width="0.45"/>
<circle cx="152.10" cy="253.90" r="2.20" fill="#cc102e" stroke="#aa0c26" stroke-width="0.45"/>
<circle cx="201.90" cy="230.40" r="2.20" fill="#cc102e" stroke="#aa0c26" stroke-width="0.45"/>
<circle cx="201.90" cy="240.10" r="2.20" fill="#cc102e" stroke="#aa0c26" stroke-width="0.45"/>
<circle cx="199.60" cy="246.60" r="2.20" fill="#cc102e" stroke="#aa0c26" stroke-width="0.45"/>
<circle cx="204.30" cy="245.60" r="2.20" fill="#cc102e" stroke="#aa0c26" stroke-width="0.45"/>
<circle cx="120.30" cy="264.70" r="2.20" fill="#15457f" stroke="#0f3565" stroke-width="0.45"/>
<circle cx="120.00" cy="271.90" r="2.20" fill="#15457f" stroke="#0f3565" stroke-width="0.45"/>
<circle cx="122.20" cy="273.60" r="2.20" fill="#15457f" stroke="#0f3565" stroke-width="0.45"/>
<circle cx="118.30" cy="275.30" r="2.20" fill="#15457f" stroke="#0f3565" stroke-width="0.45"/>
<circle cx="167.00" cy="222.20" r="2.20" fill="#15457f" stroke="#0f3565" stroke-width="0.45"/>
<circle cx="167.30" cy="230.00" r="2.20" fill="#15457f" stroke="#0f3565" stroke-width="0.45"/>
<circle cx="165.60" cy="236.90" r="2.20" fill="#15457f" stroke="#0f3565" stroke-width="0.45"/>
<circle cx="169.40" cy="235.60" r="2.20" fill="#15457f" stroke="#0f3565" stroke-width="0.45"/>
<circle cx="215.10" cy="221.30" r="2.20" fill="#15457f" stroke="#0f3565" stroke-width="0.45"/>
<circle cx="215.10" cy="232.10" r="2.20" fill="#15457f" stroke="#0f3565" stroke-width="0.45"/>
<circle cx="212.30" cy="247.60" r="2.20" fill="#15457f" stroke="#0f3565" stroke-width="0.45"/>
<circle cx="217.10" cy="245.20" r="2.20" fill="#15457f" stroke="#0f3565" stroke-width="0.45"/>
<circle cx="228.90" cy="265.30" r="2.60" fill="#b0b991" stroke="#9da67e" stroke-width="0.45"/>
<circle cx="229.00" cy="278.10" r="2.60" fill="#cc102e" stroke="#aa0c26" stroke-width="0.45"/>
<circle cx="229.00" cy="290.60" r="2.60" fill="#15457f" stroke="#0f3565" stroke-width="0.45"/>
<text x="234.70" y="267.90" font-size="8.0" stroke="#2b2b2b" stroke-width="0.22" textLength="14.00" lengthAdjust="spacingAndGlyphs" >PBS</text>
<text x="234.70" y="280.60" font-size="8.0" stroke="#2b2b2b" stroke-width="0.22" textLength="19.30" lengthAdjust="spacingAndGlyphs" >Mock</text>
<text x="234.70" y="293.20" font-size="8.0" stroke="#2b2b2b" stroke-width="0.22" textLength="13.80" lengthAdjust="spacingAndGlyphs" >CV1</text>
<text x="271.60" y="179.70" font-size="12" font-weight="bold" fill="#111" >D</text>
<text x="388.80" y="195.00" font-size="10.0" text-anchor="middle" stroke="#2b2b2b" stroke-width="0.22" textLength="29.50" lengthAdjust="spacingAndGlyphs" >MHCII</text>
<line x1="319.00" y1="212.80" x2="319.00" y2="307.50" stroke="#1a1a1a" stroke-width="1.5"/>
<line x1="315.90" y1="306.70" x2="319.00" y2="306.70" stroke="#1a1a1a" stroke-width="1.0"/>
<text x="311.80" y="309.60" font-size="8.4" text-anchor="end" stroke="#2b2b2b" stroke-width="0.22" textLength="4.33" lengthAdjust="spacingAndGlyphs" >0</text>
<line x1="315.90" y1="288.40" x2="319.00" y2="288.40" stroke="#1a1a1a" stroke-width="1.0"/>
<text x="311.80" y="291.30" font-size="8.4" text-anchor="end" stroke="#2b2b2b" stroke-width="0.22" textLength="21.65" lengthAdjust="spacingAndGlyphs" >20000</text>
<line x1="315.90" y1="270.10" x2="319.00" y2="270.10" stroke="#1a1a1a" stroke-width="1.0"/>
<text x="311.80" y="273.00" font-size="8.4" text-anchor="end" stroke="#2b2b2b" stroke-width="0.22" textLength="21.65" lengthAdjust="spacingAndGlyphs" >40000</text>
<line x1="315.90" y1="251.80" x2="319.00" y2="251.80" stroke="#1a1a1a" stroke-width="1.0"/>
<text x="311.80" y="254.70" font-size="8.4" text-anchor="end" stroke="#2b2b2b" stroke-width="0.22" textLength="21.65" lengthAdjust="spacingAndGlyphs" >60000</text>
<line x1="315.90" y1="233.50" x2="319.00" y2="233.50" stroke="#1a1a1a" stroke-width="1.0"/>
<text x="311.80" y="236.40" font-size="8.4" text-anchor="end" stroke="#2b2b2b" stroke-width="0.22" textLength="21.65" lengthAdjust="spacingAndGlyphs" >80000</text>
<line x1="315.90" y1="215.20" x2="319.00" y2="215.20" stroke="#1a1a1a" stroke-width="1.0"/>
<text x="311.80" y="218.10" font-size="8.4" text-anchor="end" stroke="#2b2b2b" stroke-width="0.22" textLength="25.98" lengthAdjust="spacingAndGlyphs" >100000</text>
<text x="278.80" y="259.90" font-size="10.3" text-anchor="middle" stroke="#2b2b2b" stroke-width="0.22" textLength="61.50" lengthAdjust="spacingAndGlyphs" transform="rotate(-90 278.80 259.90)" >MHCII BV711 MFI</text>
<line x1="315.90" y1="306.90" x2="456.00" y2="306.90" stroke="#1a1a1a" stroke-width="1.4"/>
<line x1="340.20" y1="306.90" x2="340.20" y2="309.90" stroke="#1a1a1a" stroke-width="1.0"/>
<line x1="387.50" y1="306.90" x2="387.50" y2="309.90" stroke="#1a1a1a" stroke-width="1.0"/>
<line x1="434.60" y1="306.90" x2="434.60" y2="309.90" stroke="#1a1a1a" stroke-width="1.0"/>
<text x="340.60" y="320.20" font-size="8.4" text-anchor="middle" stroke="#2b2b2b" stroke-width="0.22" textLength="15.40" lengthAdjust="spacingAndGlyphs" >Mac</text>
<text x="387.40" y="320.20" font-size="8.4" text-anchor="middle" stroke="#2b2b2b" stroke-width="0.22" textLength="11.80" lengthAdjust="spacingAndGlyphs" >DC</text>
<text x="434.60" y="320.20" font-size="8.4" text-anchor="middle" stroke="#2b2b2b" stroke-width="0.22" textLength="37.70" lengthAdjust="spacingAndGlyphs" >all CD45+</text>
<line x1="385.30" y1="255.90" x2="400.00" y2="255.90" stroke="#2a2a2a" stroke-width="1.2"/>
<path d="M392.60,248.60 L393.19,250.09 L394.79,250.19 L393.55,251.21 L393.95,252.76 L392.60,251.90 L391.25,252.76 L391.65,251.21 L390.41,250.19 L392.01,250.09 Z" fill="#1a1a1a"/>
<line x1="431.90" y1="234.60" x2="447.40" y2="234.60" stroke="#222" stroke-width="0.9"/>
<text x="430.10" y="233.10" font-size="8.0" stroke="#2b2b2b" stroke-width="0.22" textLength="19.60" lengthAdjust="spacingAndGlyphs" >0.078</text>
<line x1="335.80" y1="252.60" x2="344.50" y2="252.60" stroke="#3a3a3a" stroke-width="1.1"/>
<line x1="369.90" y1="277.80" x2="378.80" y2="277.80" stroke="#3a3a3a" stroke-width="1.1"/>
<line x1="383.20" y1="288.30" x2="391.80" y2="288.30" stroke="#3a3a3a" stroke-width="1.1"/>
<line x1="417.30" y1="266.20" x2="426.40" y2="266.20" stroke="#3a3a3a" stroke-width="1.1"/>
<line x1="430.00" y1="274.50" x2="439.00" y2="274.50" stroke="#3a3a3a" stroke-width="1.1"/>
<line x1="443.40" y1="263.50" x2="452.10" y2="263.50" stroke="#3a3a3a" stroke-width="1.1"/>
<circle cx="327.70" cy="236.00" r="2.20" fill="#b0b991" stroke="#9da67e" stroke-width="0.45"/>
<circle cx="325.40" cy="245.90" r="2.20" fill="#b0b991" stroke="#9da67e" stroke-width="0.45"/>
<circle cx="329.80" cy="247.90" r="2.20" fill="#b0b991" stroke="#9da67e" stroke-width="0.45"/>
<circle cx="327.70" cy="267.60" r="2.20" fill="#b0b991" stroke="#9da67e" stroke-width="0.45"/>
<circle cx="372.90" cy="276.80" r="2.20" fill="#b0b991" stroke="#9da67e" stroke-width="0.45"/>
<circle cx="375.80" cy="276.80" r="2.20" fill="#b0b991" stroke="#9da67e" stroke-width="0.45"/>
<circle cx="374.40" cy="294.40" r="2.20" fill="#b0b991" stroke="#9da67e" stroke-width="0.45"/>
<circle cx="421.60" cy="244.00" r="2.20" fill="#b0b991" stroke="#9da67e" stroke-width="0.45"/>
<circle cx="421.60" cy="261.50" r="2.20" fill="#b0b991" stroke="#9da67e" stroke-width="0.45"/>
<circle cx="421.60" cy="270.60" r="2.20" fill="#b0b991" stroke="#9da67e" stroke-width="0.45"/>
<circle cx="421.60" cy="278.60" r="2.20" fill="#b0b991" stroke="#9da67e" stroke-width="0.45"/>
<circle cx="339.90" cy="245.20" r="2.20" fill="#cc102e" stroke="#aa0c26" stroke-width="0.45"/>
<circle cx="339.90" cy="248.50" r="2.20" fill="#cc102e" stroke="#aa0c26" stroke-width="0.45"/>
<circle cx="342.70" cy="254.40" r="2.20" fill="#cc102e" stroke="#aa0c26" stroke-width="0.45"/>
<circle cx="338.20" cy="258.30" r="2.20" fill="#cc102e" stroke="#aa0c26" stroke-width="0.45"/>
<circle cx="385.20" cy="283.50" r="2.20" fill="#cc102e" stroke="#aa0c26" stroke-width="0.45"/>
<circle cx="389.70" cy="283.50" r="2.20" fill="#cc102e" stroke="#aa0c26" stroke-width="0.45"/>
<circle cx="385.20" cy="294.40" r="2.20" fill="#cc102e" stroke="#aa0c26" stroke-width="0.45"/>
<circle cx="389.70" cy="292.90" r="2.20" fill="#cc102e" stroke="#aa0c26" stroke-width="0.45"/>
<circle cx="434.30" cy="271.80" r="2.20" fill="#cc102e" stroke="#aa0c26" stroke-width="0.45"/>
<circle cx="432.50" cy="275.40" r="2.20" fill="#cc102e" stroke="#aa0c26" stroke-width="0.45"/>
<circle cx="436.70" cy="275.40" r="2.20" fill="#cc102e" stroke="#aa0c26" stroke-width="0.45"/>
<circle cx="434.30" cy="276.50" r="2.20" fill="#cc102e" stroke="#aa0c26" stroke-width="0.45"/>
<circle cx="353.30" cy="235.40" r="2.20" fill="#15457f" stroke="#0f3565" stroke-width="0.45"/>
<circle cx="351.00" cy="248.50" r="2.20" fill="#15457f" stroke="#0f3565" stroke-width="0.45"/>
<circle cx="355.30" cy="248.90" r="2.20" fill="#15457f" stroke="#0f3565" stroke-width="0.45"/>
<circle cx="353.00" cy="253.60" r="2.20" fill="#15457f" stroke="#0f3565" stroke-width="0.45"/>
<circle cx="402.30" cy="268.00" r="2.20" fill="#15457f" stroke="#0f3565" stroke-width="0.45"/>
<circle cx="398.00" cy="271.20" r="2.20" fill="#15457f" stroke="#0f3565" stroke-width="0.45"/>
<circle cx="402.30" cy="274.20" r="2.20" fill="#15457f" stroke="#0f3565" stroke-width="0.45"/>
<circle cx="400.50" cy="280.60" r="2.20" fill="#15457f" stroke="#0f3565" stroke-width="0.45"/>
<circle cx="447.70" cy="245.70" r="2.20" fill="#15457f" stroke="#0f3565" stroke-width="0.45"/>
<circle cx="447.70" cy="259.40" r="2.20" fill="#15457f" stroke="#0f3565" stroke-width="0.45"/>
<circle cx="445.50" cy="268.60" r="2.20" fill="#15457f" stroke="#0f3565" stroke-width="0.45"/>
<circle cx="449.70" cy="268.60" r="2.20" fill="#15457f" stroke="#0f3565" stroke-width="0.45"/>
<text x="72.00" y="348.50" font-size="12" font-weight="bold" fill="#111" >E</text>
<text x="149.00" y="358.10" font-size="10.2" text-anchor="middle" stroke="#2b2b2b" stroke-width="0.22" textLength="29.80" lengthAdjust="spacingAndGlyphs" >MOCK</text>
<rect x="98.50" y="365.20" width="99.00" height="97.20" fill="none" stroke="#8a8a8a" stroke-width="0.8"/>
<line x1="98.50" y1="365.20" x2="98.50" y2="462.40" stroke="#6a6a6a" stroke-width="1.0"/>
<line x1="98.50" y1="462.40" x2="197.50" y2="462.40" stroke="#6a6a6a" stroke-width="1.0"/>
<path d="M132.5,442.8 L129.8,442.8 L126.8,442.6 L125.9,442.2 L125.5,441.8 L125.4,441.5 L125.3,441.0 L125.5,440.2 L126.6,438.5 L127.6,436.8 L128.5,435.5 L129.5,434.9 L130.2,434.7 L131.0,435.1 L131.5,435.8 L131.8,436.8 L131.8,437.2 L131.6,437.8 L129.9,439.5 L129.8,440.2 L130.0,440.8 L130.5,441.1 L131.2,441.4 L132.0,441.3 L133.8,440.7 L134.0,440.7 L134.3,441.0 L134.3,441.5 L133.8,442.2 L133.2,442.6 L132.5,442.8" fill="none" stroke="rgb(190, 190, 190)" stroke-width="0.55"/>
<path d="M131.0,444.3 L128.8,444.4 L126.8,444.1 L125.8,443.9 L125.2,443.6 L124.8,443.1 L124.3,442.2 L124.1,441.5 L124.2,440.2 L124.9,437.8 L124.8,435.5 L125.0,434.5 L125.5,433.7 L127.0,432.0 L127.6,430.5 L128.0,429.8 L128.5,429.2 L129.0,429.0 L129.5,429.0 L129.8,429.1 L131.0,430.2 L132.4,431.0 L132.8,431.3 L133.0,432.0 L132.7,433.2 L132.7,434.0 L133.0,434.9 L133.8,436.5 L134.1,437.0 L134.7,437.5 L136.8,438.6 L137.1,439.0 L137.3,439.5 L137.2,440.5 L136.8,441.5 L136.0,442.6 L135.2,443.4 L134.6,443.8 L134.0,444.0 L131.0,444.3" fill="none" stroke="rgb(182, 182, 182)" stroke-width="0.55"/>
<path d="M129.0,445.5 L126.5,445.3 L125.2,445.1 L124.5,444.8 L124.0,444.1 L123.6,442.8 L123.4,441.5 L123.7,438.0 L123.6,435.0 L124.2,432.2 L124.3,430.2 L124.4,429.2 L125.0,427.8 L125.8,426.2 L126.0,425.9 L126.5,425.6 L127.0,425.6 L128.0,425.8 L129.8,425.3 L130.5,425.3 L131.0,425.4 L131.8,425.8 L133.8,427.2 L134.5,428.0 L136.1,431.0 L136.4,432.0 L136.5,432.8 L136.0,434.5 L136.1,435.5 L136.6,436.2 L138.2,437.1 L138.7,437.5 L139.0,438.2 L139.1,439.0 L138.7,440.8 L138.2,442.0 L137.2,443.2 L136.0,444.3 L135.2,444.7 L134.5,444.9 L129.0,445.5" fill="none" stroke="rgb(174, 174, 174)" stroke-width="0.55"/>
<path d="M130.0,446.0 L128.5,446.1 L125.8,445.9 L124.7,445.8 L124.0,445.5 L123.6,445.0 L123.3,444.2 L123.0,442.5 L123.0,441.2 L123.1,438.0 L123.1,435.0 L123.4,432.2 L123.4,429.5 L123.8,426.4 L124.0,425.2 L124.3,424.5 L124.8,423.9 L125.2,423.4 L126.0,423.0 L127.5,422.5 L129.0,422.3 L130.0,422.2 L131.0,422.3 L131.8,422.6 L133.5,424.3 L134.1,424.8 L135.8,425.6 L136.2,426.0 L136.6,426.5 L136.9,427.2 L137.2,429.0 L137.5,430.0 L138.8,432.4 L140.0,434.1 L140.3,434.8 L140.5,435.5 L141.1,439.8 L141.1,440.2 L140.9,441.0 L139.7,442.8 L138.6,443.8 L136.8,445.0 L136.0,445.3 L135.2,445.5 L130.0,446.0" fill="none" stroke="rgb(166, 166, 166)" stroke-width="0.55"/>
<path d="M131.2,446.3 L128.2,446.4 L125.5,446.3 L124.2,446.1 L123.8,445.9 L123.2,445.5 L123.0,445.0 L122.9,444.2 L122.7,441.5 L122.7,435.0 L122.9,432.2 L122.9,429.0 L123.3,425.0 L123.8,423.4 L124.5,422.0 L125.2,421.3 L126.0,420.9 L126.8,420.5 L127.5,420.4 L128.8,420.3 L132.2,420.3 L133.0,420.5 L133.6,421.0 L135.0,422.8 L137.5,425.0 L138.8,426.5 L139.3,427.8 L139.7,430.0 L140.0,431.0 L140.5,431.8 L141.8,433.0 L142.0,433.5 L142.2,434.2 L142.4,437.5 L143.2,441.2 L143.1,442.0 L142.8,442.5 L142.0,443.2 L140.3,444.5 L138.7,445.2 L137.0,445.8 L135.8,446.0 L131.2,446.3" fill="none" stroke="rgb(158, 158, 158)" stroke-width="0.55"/>
<path d="M131.8,446.5 L128.5,446.7 L124.2,446.4 L123.6,446.2 L123.2,446.0 L122.8,445.5 L122.7,445.0 L122.4,441.8 L122.5,435.2 L122.6,429.0 L122.9,424.8 L123.5,421.5 L124.0,420.1 L124.5,419.3 L125.2,418.5 L125.8,418.2 L126.2,418.0 L127.5,418.1 L130.5,418.8 L132.8,418.8 L133.5,419.0 L134.2,419.4 L136.5,420.9 L137.5,421.4 L138.8,421.8 L139.2,422.1 L139.8,422.8 L141.7,427.0 L142.9,429.2 L143.7,432.2 L144.2,438.5 L145.1,441.8 L145.0,442.5 L144.7,443.0 L144.0,443.7 L142.6,444.5 L141.2,445.2 L139.9,445.8 L136.2,446.3 L131.8,446.5" fill="none" stroke="rgb(150, 150, 150)" stroke-width="0.55"/>
<path d="M132.0,446.8 L128.8,446.9 L124.5,446.7 L123.2,446.4 L123.0,446.2 L122.6,445.8 L122.4,444.5 L122.2,441.2 L122.2,434.8 L122.6,425.0 L122.9,421.0 L123.2,419.3 L123.9,417.2 L124.5,416.3 L125.2,415.8 L126.0,415.7 L129.0,416.5 L130.5,416.8 L131.5,416.7 L132.0,416.6 L132.5,416.2 L133.8,414.5 L134.2,414.2 L134.8,414.1 L135.2,414.2 L136.0,414.6 L140.5,418.4 L140.9,419.0 L141.9,421.5 L143.7,424.5 L143.9,425.2 L143.9,426.8 L144.1,427.5 L145.2,430.8 L145.5,432.0 L145.7,436.2 L146.0,438.5 L146.6,441.2 L146.6,442.0 L146.3,443.0 L146.0,443.5 L145.5,444.0 L144.3,444.8 L141.8,445.8 L140.5,446.1 L139.0,446.4 L136.0,446.6 L132.0,446.8" fill="none" stroke="rgb(142, 142, 142)" stroke-width="0.55"/>
<path d="M131.5,447.0 L128.2,447.1 L124.0,446.9 L123.2,446.7 L122.8,446.5 L122.6,446.2 L122.3,445.8 L122.1,444.5 L122.0,442.0 L122.0,435.0 L122.2,426.5 L122.5,421.2 L123.0,417.4 L123.4,415.8 L124.0,414.5 L125.2,413.2 L126.0,412.7 L126.5,412.5 L127.0,412.5 L127.6,412.8 L129.2,413.6 L130.0,413.7 L130.8,413.3 L131.9,412.2 L132.5,411.8 L133.2,411.6 L134.0,411.5 L135.2,411.9 L136.9,412.8 L142.0,416.2 L142.8,417.0 L143.0,417.5 L143.2,419.2 L143.5,420.0 L145.2,423.2 L145.6,424.2 L145.7,425.2 L145.8,427.8 L147.0,432.0 L147.5,436.8 L148.1,440.5 L148.2,441.5 L147.9,442.8 L147.2,444.0 L146.2,444.8 L144.7,445.5 L142.0,446.2 L140.0,446.6 L136.2,446.9 L131.5,447.0" fill="none" stroke="rgb(134, 134, 134)" stroke-width="0.55"/>
<path d="M131.0,447.3 L127.5,447.3 L123.8,447.1 L122.8,446.8 L122.4,446.5 L122.1,446.0 L121.9,444.5 L121.8,441.0 L121.9,429.5 L122.2,420.8 L122.7,416.2 L122.9,414.8 L123.8,412.4 L124.5,411.1 L125.2,410.6 L126.2,410.2 L127.0,410.1 L129.2,410.1 L132.2,409.4 L133.5,409.3 L134.2,409.5 L135.0,409.7 L137.5,411.0 L141.1,412.5 L141.8,413.0 L143.0,414.1 L144.5,415.2 L145.1,416.0 L145.3,416.8 L145.7,418.8 L146.6,420.5 L146.9,421.5 L147.1,422.5 L147.3,425.2 L147.5,426.8 L147.9,428.0 L148.8,430.0 L149.1,431.5 L149.5,433.8 L149.4,437.0 L150.0,439.8 L150.1,441.2 L149.9,442.0 L149.6,442.8 L148.7,444.2 L147.5,445.2 L146.4,445.8 L144.1,446.2 L140.2,446.9 L136.2,447.1 L131.0,447.3" fill="none" stroke="rgb(126, 126, 126)" stroke-width="0.55"/>
<path d="M129.2,447.5 L124.2,447.4 L123.2,447.2 L122.5,446.9 L122.1,446.5 L121.8,445.8 L121.7,444.2 L121.6,442.0 L121.7,430.0 L122.0,421.2 L122.4,415.8 L122.8,413.5 L123.3,410.8 L123.7,410.0 L124.0,409.5 L124.8,408.8 L127.0,407.4 L127.8,407.1 L128.5,406.9 L130.8,407.3 L134.0,407.4 L135.2,407.7 L136.2,408.0 L138.5,409.3 L142.0,410.7 L143.0,411.2 L146.0,413.7 L146.7,414.5 L147.2,415.5 L148.5,418.2 L149.1,420.2 L149.2,421.8 L148.9,424.2 L148.9,425.5 L149.3,426.8 L150.4,428.8 L150.6,429.5 L151.5,433.5 L151.6,434.5 L151.6,436.8 L151.8,438.8 L151.8,440.2 L151.8,441.2 L151.7,442.0 L151.5,442.8 L150.9,443.8 L149.7,445.0 L148.9,445.5 L147.7,446.0 L146.0,446.4 L140.0,447.1 L136.0,447.3 L129.2,447.5" fill="none" stroke="rgb(118, 118, 118)" stroke-width="0.55"/>
<path d="M136.8,447.5 L129.0,447.7 L124.0,447.5 L123.0,447.4 L122.5,447.1 L121.9,446.5 L121.6,445.8 L121.4,441.5 L121.6,426.0 L121.8,420.5 L122.1,416.0 L122.7,411.0 L122.9,409.8 L123.2,408.8 L123.8,407.8 L124.2,407.0 L125.0,406.1 L126.0,405.2 L126.8,404.8 L127.5,404.5 L128.8,404.5 L131.2,404.8 L135.5,405.6 L138.2,405.6 L138.8,405.8 L139.5,406.1 L143.5,409.1 L145.7,411.2 L147.5,412.7 L148.0,413.4 L149.8,416.5 L150.2,417.5 L150.6,418.8 L151.1,422.8 L150.8,425.2 L150.9,426.0 L151.1,426.8 L152.0,429.0 L152.5,431.5 L153.2,434.2 L153.7,441.2 L153.7,442.0 L153.5,442.5 L152.7,443.8 L151.5,445.0 L150.5,445.6 L149.2,446.1 L147.8,446.5 L146.5,446.7 L140.2,447.3 L136.8,447.5" fill="none" stroke="rgb(110, 110, 110)" stroke-width="0.55"/>
<path d="M135.5,447.8 L128.8,447.9 L123.5,447.7 L122.5,447.4 L122.0,447.0 L121.7,446.5 L121.4,445.8 L121.3,444.5 L121.2,441.5 L121.3,426.2 L121.6,419.8 L121.9,415.2 L122.4,410.2 L123.0,407.0 L123.4,405.8 L123.8,404.9 L125.3,402.8 L126.0,402.2 L126.8,401.9 L127.5,401.8 L128.2,401.9 L130.8,402.6 L133.2,402.9 L135.8,403.5 L138.8,403.6 L140.0,403.8 L141.2,404.5 L145.3,407.5 L146.1,408.2 L148.5,410.6 L149.9,413.2 L151.0,415.0 L151.5,416.2 L152.8,420.6 L153.7,423.2 L153.7,424.0 L153.3,425.8 L153.3,426.5 L153.9,429.2 L154.2,431.4 L155.0,434.2 L155.1,436.2 L155.1,439.2 L155.3,441.2 L155.2,442.5 L154.5,443.8 L153.7,444.8 L152.7,445.5 L151.6,446.0 L150.0,446.4 L147.2,446.9 L140.5,447.5 L135.5,447.8" fill="none" stroke="rgb(102, 102, 102)" stroke-width="0.55"/>
<path d="M134.0,448.0 L128.2,448.1 L125.2,448.0 L123.2,447.9 L122.5,447.6 L121.8,447.0 L121.3,446.2 L121.2,445.5 L121.0,441.8 L121.0,434.8 L121.3,420.8 L122.0,411.0 L122.5,406.2 L123.0,403.9 L123.5,402.5 L124.1,401.2 L124.5,400.8 L125.2,400.3 L126.2,399.9 L127.2,399.6 L128.8,399.6 L131.2,400.3 L141.8,402.0 L142.8,402.4 L144.5,403.6 L146.6,405.5 L149.0,407.2 L149.8,407.9 L150.3,408.8 L150.6,409.5 L151.3,411.8 L152.7,414.2 L153.5,417.2 L155.4,422.0 L155.8,423.5 L155.7,427.0 L156.1,430.8 L156.9,434.0 L157.1,436.2 L156.8,439.2 L157.0,441.5 L157.0,442.2 L156.6,443.5 L155.7,444.8 L154.9,445.5 L153.9,446.0 L152.2,446.5 L150.0,446.9 L147.5,447.2 L140.0,447.8 L134.0,448.0" fill="none" stroke="rgb(95, 95, 95)" stroke-width="0.55"/>
<path d="M177.5,443.8 L176.8,443.8 L176.1,443.8 L175.7,443.5 L175.3,443.0 L175.0,442.0 L175.0,441.0 L175.2,440.2 L175.5,439.8 L175.8,439.6 L176.5,439.6 L180.0,440.7 L181.2,441.2 L181.6,441.8 L181.6,442.2 L181.0,442.7 L177.5,443.8" fill="none" stroke="rgb(190, 190, 190)" stroke-width="0.55"/>
<path d="M177.5,444.8 L176.5,444.9 L175.5,444.8 L174.8,444.5 L174.3,444.2 L173.6,443.5 L172.8,442.0 L172.5,441.2 L172.4,440.5 L172.6,438.2 L172.9,437.5 L173.3,437.0 L174.2,436.2 L175.8,435.4 L176.8,435.0 L177.8,434.9 L179.2,435.2 L179.8,435.5 L180.2,435.9 L180.6,436.5 L181.0,438.5 L181.3,439.0 L182.5,440.1 L183.0,440.7 L183.3,441.2 L183.5,442.0 L183.4,442.5 L183.2,443.0 L182.5,443.6 L180.0,444.1 L177.5,444.8" fill="none" stroke="rgb(182, 182, 182)" stroke-width="0.55"/>
<path d="M177.0,445.5 L175.0,445.5 L174.0,445.3 L173.4,445.0 L172.3,444.2 L171.0,442.8 L170.4,441.8 L170.2,441.0 L170.3,438.5 L170.5,437.2 L171.0,436.2 L172.0,435.1 L173.0,434.3 L174.5,433.7 L176.0,433.2 L177.0,433.0 L180.0,433.0 L181.0,433.2 L181.7,433.5 L182.2,434.0 L182.7,434.5 L183.0,435.2 L183.6,437.2 L184.4,439.2 L184.7,440.2 L184.9,441.8 L184.7,443.0 L184.4,443.5 L184.0,444.0 L183.1,444.5 L177.0,445.5" fill="none" stroke="rgb(174, 174, 174)" stroke-width="0.55"/>
<path d="M178.8,445.8 L176.8,445.9 L175.0,445.9 L173.5,445.7 L172.0,445.3 L171.0,444.8 L170.5,444.2 L169.7,443.2 L169.1,442.2 L168.9,441.2 L168.9,440.0 L169.0,437.5 L169.3,436.2 L170.0,435.0 L171.2,433.3 L172.2,432.2 L173.2,431.6 L174.2,431.4 L178.2,431.1 L179.5,431.2 L180.8,431.4 L181.8,431.9 L182.9,432.8 L184.4,434.2 L185.0,435.2 L185.5,437.8 L186.0,440.0 L186.2,441.0 L186.1,442.2 L185.6,443.8 L185.0,444.5 L184.5,444.8 L183.8,445.1 L182.8,445.3 L178.8,445.8" fill="none" stroke="rgb(166, 166, 166)" stroke-width="0.55"/>
<path d="M180.0,446.0 L177.5,446.2 L175.5,446.2 L173.5,446.1 L171.6,445.8 L170.5,445.5 L169.6,445.0 L168.9,444.2 L168.3,443.2 L168.0,442.2 L167.8,441.2 L167.8,437.0 L168.0,435.8 L169.0,433.6 L170.2,431.5 L171.2,430.6 L172.5,429.9 L173.8,429.5 L176.5,429.4 L179.0,428.6 L180.0,428.6 L180.5,428.9 L181.0,429.3 L183.8,432.0 L185.8,433.6 L186.2,434.1 L186.6,434.8 L186.9,435.8 L186.8,437.8 L186.9,438.5 L187.6,440.8 L187.7,441.5 L187.5,442.5 L186.9,443.8 L186.1,444.8 L185.5,445.1 L184.8,445.4 L183.0,445.8 L180.0,446.0" fill="none" stroke="rgb(158, 158, 158)" stroke-width="0.55"/>
<path d="M180.8,446.3 L176.8,446.5 L173.8,446.4 L170.0,445.9 L169.0,445.6 L168.4,445.2 L167.9,444.8 L167.6,444.2 L167.0,442.5 L166.8,441.5 L166.7,439.0 L166.3,436.8 L166.3,436.2 L166.6,435.5 L167.7,433.5 L168.7,431.2 L169.5,430.2 L170.2,429.6 L171.8,428.7 L173.0,428.1 L174.0,427.9 L176.0,427.6 L178.5,426.7 L179.8,426.5 L180.5,426.5 L181.2,426.7 L181.8,426.9 L182.2,427.2 L182.6,427.8 L183.5,429.8 L184.2,430.8 L185.0,431.6 L186.8,432.7 L187.5,433.6 L187.9,434.5 L188.2,435.5 L188.1,438.0 L188.2,438.8 L188.9,440.8 L189.1,441.5 L188.9,442.2 L188.3,443.5 L187.6,444.5 L186.7,445.2 L185.8,445.7 L184.5,446.0 L180.8,446.3" fill="none" stroke="rgb(150, 150, 150)" stroke-width="0.55"/>
<path d="M181.2,446.5 L177.5,446.7 L175.0,446.7 L172.5,446.5 L169.5,446.2 L168.2,445.9 L167.5,445.5 L166.7,444.8 L166.1,443.8 L165.7,442.8 L165.5,441.8 L165.4,439.2 L165.0,437.0 L165.1,436.2 L165.2,435.8 L165.6,435.0 L166.7,433.2 L167.9,430.8 L168.8,429.4 L169.5,428.5 L170.2,427.8 L172.0,426.6 L173.0,426.3 L174.8,426.0 L178.2,425.2 L180.5,425.0 L182.0,425.3 L183.0,425.8 L183.9,426.8 L184.4,427.8 L185.0,429.3 L185.5,430.1 L186.1,430.5 L187.5,431.2 L188.0,431.6 L188.4,432.2 L189.0,433.8 L189.3,435.0 L189.4,436.0 L189.4,437.8 L189.5,438.5 L190.2,440.2 L190.4,441.0 L190.3,441.8 L190.0,442.5 L188.6,444.8 L188.0,445.2 L187.5,445.6 L186.5,445.9 L185.2,446.2 L181.2,446.5" fill="none" stroke="rgb(142, 142, 142)" stroke-width="0.55"/>
<path d="M187.0,411.6 L186.8,411.6 L186.3,411.5 L186.2,411.2 L186.0,410.8 L186.0,410.0 L186.5,408.0 L186.5,407.2 L186.4,407.0 L185.0,406.2 L184.2,405.4 L183.5,404.3 L183.2,403.2 L183.3,402.5 L183.8,401.8 L184.5,401.2 L185.5,400.9 L186.0,400.9 L186.5,401.1 L187.0,401.8 L187.1,402.8 L186.9,405.2 L186.9,406.8 L188.1,408.0 L188.4,408.5 L188.6,409.0 L188.5,410.0 L188.2,410.7 L187.8,411.2 L187.0,411.6" fill="none" stroke="rgb(134, 134, 134)" stroke-width="0.55"/>
<path d="M181.0,446.8 L177.2,446.9 L174.5,446.9 L170.2,446.6 L168.1,446.2 L166.5,445.8 L165.7,445.2 L164.8,444.2 L164.2,443.2 L164.0,442.2 L163.9,441.0 L164.0,436.8 L164.3,435.2 L165.7,433.0 L166.9,430.5 L169.0,426.9 L169.8,426.0 L170.8,425.0 L171.5,424.4 L172.2,424.0 L173.2,423.8 L175.8,423.8 L181.2,423.5 L182.0,423.6 L182.8,423.8 L183.5,424.2 L184.4,425.0 L186.6,427.8 L188.7,429.2 L189.1,429.8 L189.4,430.5 L190.6,434.8 L190.9,437.8 L191.7,440.5 L191.7,441.5 L191.3,442.5 L189.8,444.8 L189.3,445.2 L188.5,445.8 L187.2,446.2 L185.8,446.4 L181.0,446.8" fill="none" stroke="rgb(134, 134, 134)" stroke-width="0.55"/>
<path d="M186.8,418.5 L186.2,418.4 L185.2,417.7 L184.5,416.9 L184.1,416.0 L183.8,415.0 L183.6,413.2 L183.3,412.2 L182.9,411.2 L181.9,409.8 L181.6,409.0 L181.5,408.0 L181.5,405.8 L181.0,403.2 L181.0,402.5 L181.2,402.0 L182.3,400.5 L183.2,399.6 L184.2,398.9 L185.0,398.5 L185.5,398.4 L186.2,398.6 L187.0,399.0 L187.8,399.8 L188.5,400.8 L188.8,401.8 L189.2,404.5 L190.1,407.5 L190.4,409.2 L190.4,410.5 L190.3,411.5 L190.0,412.8 L189.5,414.2 L187.5,417.9 L187.0,418.4 L186.8,418.5" fill="none" stroke="rgb(126, 126, 126)" stroke-width="0.55"/>
<path d="M180.5,447.0 L175.2,447.1 L169.8,446.8 L168.0,446.6 L166.5,446.3 L165.6,446.0 L164.4,445.5 L163.7,445.0 L163.2,444.4 L162.9,443.8 L162.7,442.8 L162.6,441.2 L162.6,439.8 L163.1,436.0 L163.4,435.0 L163.8,434.0 L165.4,430.8 L166.6,428.8 L167.8,426.2 L168.5,425.2 L169.6,424.0 L170.5,423.2 L171.5,422.5 L173.2,421.4 L174.5,421.0 L175.5,421.0 L178.0,421.7 L179.2,421.8 L181.8,421.3 L184.2,421.1 L186.2,420.3 L186.5,420.3 L186.9,421.0 L187.5,423.8 L188.0,425.2 L188.5,426.0 L190.0,427.8 L190.5,428.8 L190.8,429.5 L191.4,432.2 L192.4,435.2 L192.6,437.8 L193.1,440.2 L193.0,441.8 L192.6,443.0 L191.6,444.5 L190.9,445.2 L190.0,445.8 L188.5,446.2 L186.5,446.6 L183.8,446.9 L180.5,447.0" fill="none" stroke="rgb(126, 126, 126)" stroke-width="0.55"/>
<path d="M179.0,447.3 L174.5,447.3 L168.8,446.9 L165.8,446.5 L164.5,446.1 L163.5,445.8 L163.0,445.4 L162.5,445.0 L162.1,444.0 L161.7,440.8 L161.7,438.8 L162.6,434.5 L163.8,431.0 L166.4,426.0 L168.3,423.5 L169.2,422.5 L171.1,421.0 L173.2,419.0 L174.0,418.5 L174.5,418.3 L175.0,418.2 L177.2,418.6 L178.2,418.5 L179.0,418.2 L180.1,417.5 L180.8,417.0 L181.2,416.3 L181.5,415.2 L181.5,413.8 L181.2,412.8 L180.2,411.0 L179.8,409.8 L179.7,408.2 L179.7,405.8 L179.3,403.2 L179.3,402.2 L179.7,401.2 L180.8,399.5 L182.2,397.0 L182.7,396.2 L183.2,395.8 L183.8,395.5 L184.2,395.4 L185.0,395.4 L186.0,395.7 L186.8,396.3 L187.5,397.2 L189.3,400.0 L189.8,401.2 L190.3,403.5 L191.2,407.2 L191.5,409.0 L191.5,410.5 L191.1,414.5 L191.3,417.5 L190.9,419.2 L189.9,421.5 L189.8,422.5 L190.0,423.5 L190.9,426.0 L192.4,429.2 L192.9,432.2 L193.8,435.0 L194.0,436.0 L194.0,437.8 L194.2,440.0 L194.2,441.5 L193.8,443.0 L193.2,444.4 L192.6,445.2 L191.8,445.8 L189.5,446.4 L186.8,446.8 L183.2,447.1 L179.0,447.3" fill="none" stroke="rgb(118, 118, 118)" stroke-width="0.55"/>
<path d="M184.0,447.3 L177.5,447.5 L172.5,447.4 L166.8,446.9 L164.8,446.6 L163.2,446.1 L162.5,445.8 L162.1,445.5 L161.7,445.0 L161.5,444.5 L161.3,443.2 L161.0,439.5 L161.2,437.5 L162.2,431.8 L162.8,430.0 L163.6,428.0 L165.5,424.7 L167.0,422.5 L172.0,417.5 L172.8,416.2 L173.8,414.2 L174.2,413.7 L175.8,412.7 L176.8,411.6 L177.2,410.8 L177.5,410.2 L177.8,409.4 L178.1,405.8 L178.0,404.8 L177.7,402.8 L177.8,401.8 L178.0,400.8 L179.4,397.0 L180.0,395.8 L181.0,394.7 L183.0,393.3 L183.8,393.0 L184.5,392.9 L185.5,393.1 L186.6,393.5 L187.2,393.9 L187.8,394.5 L188.9,397.2 L190.2,399.5 L190.6,400.5 L191.2,403.5 L192.1,406.8 L192.5,409.5 L192.5,411.0 L192.3,414.0 L192.7,416.8 L192.7,417.8 L192.5,419.8 L191.8,422.8 L191.8,423.8 L192.2,425.6 L193.6,428.2 L193.9,429.2 L194.2,432.2 L194.8,435.5 L195.0,440.2 L194.9,442.2 L194.5,443.9 L194.0,445.0 L193.3,445.8 L192.0,446.2 L190.0,446.6 L186.8,447.1 L184.0,447.3" fill="none" stroke="rgb(110, 110, 110)" stroke-width="0.55"/>
<path d="M183.2,447.5 L177.0,447.7 L172.2,447.6 L166.5,447.1 L164.0,446.7 L162.5,446.3 L161.5,445.8 L161.2,445.2 L161.0,444.8 L160.8,443.5 L160.5,439.5 L160.6,437.8 L161.2,432.2 L161.6,430.0 L161.9,428.5 L162.3,427.2 L163.5,425.0 L164.3,422.8 L164.7,422.0 L165.2,421.3 L167.0,419.5 L167.5,418.7 L168.0,417.8 L168.2,416.5 L167.8,414.8 L167.8,414.0 L168.8,411.0 L169.0,410.5 L170.2,409.0 L171.1,407.0 L171.7,406.2 L172.8,405.3 L174.5,404.2 L175.0,403.7 L175.3,403.0 L175.6,400.5 L176.1,398.8 L177.1,396.5 L178.2,394.5 L179.0,393.7 L180.8,392.2 L182.1,390.8 L182.8,390.4 L183.2,390.3 L184.2,390.5 L186.8,391.6 L187.5,392.0 L188.3,392.8 L188.9,393.8 L189.8,396.5 L191.2,399.2 L191.7,400.8 L192.2,403.3 L193.2,406.8 L193.4,408.5 L193.5,410.2 L193.3,413.5 L193.8,416.8 L193.8,418.5 L193.7,420.5 L193.3,423.0 L193.3,423.8 L193.5,424.8 L194.5,427.2 L194.9,428.8 L195.1,432.2 L195.4,435.8 L195.5,439.8 L195.4,442.2 L195.1,444.2 L194.8,445.3 L194.4,445.8 L194.0,446.0 L193.0,446.4 L191.8,446.7 L186.5,447.3 L183.2,447.5" fill="none" stroke="rgb(102, 102, 102)" stroke-width="0.55"/>
<path d="M183.0,447.8 L176.0,447.9 L170.0,447.7 L166.0,447.3 L163.5,446.9 L162.0,446.6 L161.5,446.3 L161.0,446.0 L160.7,445.5 L160.6,445.0 L160.4,443.5 L160.1,439.2 L160.8,430.0 L161.1,427.8 L162.1,424.5 L162.4,421.8 L162.7,420.8 L163.1,419.8 L164.5,417.8 L164.8,416.8 L164.7,415.8 L164.3,414.0 L164.1,412.5 L164.0,409.5 L164.3,407.0 L165.0,404.5 L165.4,402.2 L165.7,401.5 L166.2,400.8 L166.7,400.2 L168.4,399.0 L170.0,398.0 L171.2,397.6 L173.0,397.5 L173.8,397.1 L174.4,396.2 L175.0,394.7 L175.4,394.0 L177.0,392.4 L178.9,390.2 L180.1,389.2 L181.5,388.4 L182.5,388.0 L183.5,387.8 L184.5,388.0 L185.5,388.6 L187.8,390.3 L189.0,391.7 L189.9,393.2 L190.9,396.2 L192.4,399.2 L192.9,401.0 L194.1,406.5 L194.4,408.5 L194.5,410.2 L194.4,413.2 L194.7,416.8 L194.8,419.0 L194.6,423.5 L194.7,424.5 L195.3,427.2 L195.5,428.8 L195.9,436.0 L195.9,440.2 L195.8,442.8 L195.5,444.8 L195.2,445.8 L194.7,446.2 L193.8,446.6 L192.2,446.9 L186.2,447.6 L183.0,447.8" fill="none" stroke="rgb(95, 95, 95)" stroke-width="0.55"/>
<path d="M98.80,423.0 L98.80,365.20 L156.2,365.20 L156.2,463.7 L198.2,463.7 L198.2,423.0 Z" fill="none" stroke="#d22a1e" stroke-width="1.5"/>
<line x1="156.20" y1="365.20" x2="156.20" y2="463.70" stroke="#922426" stroke-width="1.5"/>
<line x1="98.80" y1="365.20" x2="98.80" y2="423.00" stroke="#922426" stroke-width="1.5"/>
<line x1="198.20" y1="423.00" x2="198.20" y2="463.70" stroke="#922426" stroke-width="1.5"/>
<line x1="98.50" y1="422.80" x2="198.90" y2="422.80" stroke="#d22a1e" stroke-width="1.35"/>
<text x="101.10" y="371.90" font-size="6.5" stroke="#2b2b2b" stroke-width="0.22" textLength="8.10" lengthAdjust="spacingAndGlyphs" >Q1</text>
<text x="101.70" y="378.80" font-size="6.5" stroke="#2b2b2b" stroke-width="0.22" textLength="11.10" lengthAdjust="spacingAndGlyphs" >15.8</text>
<text x="181.80" y="371.70" font-size="6.5" stroke="#2b2b2b" stroke-width="0.22" textLength="8.00" lengthAdjust="spacingAndGlyphs" >Q2</text>
<text x="180.80" y="378.80" font-size="6.5" stroke="#2b2b2b" stroke-width="0.22" textLength="11.00" lengthAdjust="spacingAndGlyphs" >17.5</text>
<text x="102.60" y="450.90" font-size="6.5" stroke="#2b2b2b" stroke-width="0.22" textLength="8.10" lengthAdjust="spacingAndGlyphs" >Q4</text>
<text x="101.30" y="458.40" font-size="6.5" stroke="#2b2b2b" stroke-width="0.22" textLength="11.50" lengthAdjust="spacingAndGlyphs" >35.5</text>
<text x="181.80" y="453.50" font-size="6.5" stroke="#2b2b2b" stroke-width="0.22" textLength="8.20" lengthAdjust="spacingAndGlyphs" >Q3</text>
<text x="180.00" y="461.00" font-size="6.5" stroke="#2b2b2b" stroke-width="0.22" textLength="11.80" lengthAdjust="spacingAndGlyphs" >31.2</text>
<line x1="96.30" y1="374.90" x2="98.50" y2="374.90" stroke="#333" stroke-width="0.8"/>
<line x1="96.30" y1="397.30" x2="98.50" y2="397.30" stroke="#333" stroke-width="0.8"/>
<line x1="96.30" y1="419.70" x2="98.50" y2="419.70" stroke="#333" stroke-width="0.8"/>
<line x1="97.20" y1="381.50" x2="98.50" y2="381.50" stroke="#333" stroke-width="0.5"/>
<line x1="97.20" y1="386.00" x2="98.50" y2="386.00" stroke="#333" stroke-width="0.5"/>
<line x1="97.20" y1="389.00" x2="98.50" y2="389.00" stroke="#333" stroke-width="0.5"/>
<line x1="97.20" y1="391.50" x2="98.50" y2="391.50" stroke="#333" stroke-width="0.5"/>
<line x1="97.20" y1="393.50" x2="98.50" y2="393.50" stroke="#333" stroke-width="0.5"/>
<line x1="97.20" y1="395.50" x2="98.50" y2="395.50" stroke="#333" stroke-width="0.5"/>
<line x1="97.20" y1="404.00" x2="98.50" y2="404.00" stroke="#333" stroke-width="0.5"/>
<line x1="97.20" y1="408.00" x2="98.50" y2="408.00" stroke="#333" stroke-width="0.5"/>
<line x1="97.20" y1="411.00" x2="98.50" y2="411.00" stroke="#333" stroke-width="0.5"/>
<line x1="97.20" y1="413.50" x2="98.50" y2="413.50" stroke="#333" stroke-width="0.5"/>
<line x1="97.20" y1="415.50" x2="98.50" y2="415.50" stroke="#333" stroke-width="0.5"/>
<line x1="97.20" y1="417.50" x2="98.50" y2="417.50" stroke="#333" stroke-width="0.5"/>
<line x1="97.20" y1="430.00" x2="98.50" y2="430.00" stroke="#333" stroke-width="0.5"/>
<line x1="97.20" y1="437.00" x2="98.50" y2="437.00" stroke="#333" stroke-width="0.5"/>
<line x1="97.20" y1="444.00" x2="98.50" y2="444.00" stroke="#333" stroke-width="0.5"/>
<line x1="97.20" y1="452.00" x2="98.50" y2="452.00" stroke="#333" stroke-width="0.5"/>
<line x1="97.20" y1="458.00" x2="98.50" y2="458.00" stroke="#333" stroke-width="0.5"/>
<rect x="96.5" y="437.6" width="2.4" height="4.8" fill="#111"/>
<text x="81.70" y="377.60" font-size="8.6" stroke="#2b2b2b" stroke-width="0.22" textLength="8.1" lengthAdjust="spacingAndGlyphs">10</text>
<text x="90.40" y="373.10" font-size="5.6" stroke="#2b2b2b" stroke-width="0.18">5</text>
<text x="81.80" y="395.30" font-size="8.6" stroke="#2b2b2b" stroke-width="0.22" textLength="8.1" lengthAdjust="spacingAndGlyphs">10</text>
<text x="90.50" y="390.80" font-size="5.6" stroke="#2b2b2b" stroke-width="0.18">4</text>
<text x="82.10" y="419.90" font-size="8.6" stroke="#2b2b2b" stroke-width="0.22" textLength="8.1" lengthAdjust="spacingAndGlyphs">10</text>
<text x="90.80" y="415.40" font-size="5.6" stroke="#2b2b2b" stroke-width="0.18">3</text>
<text x="85.80" y="440.10" font-size="8.6" stroke="#2b2b2b" stroke-width="0.22" textLength="4.00" lengthAdjust="spacingAndGlyphs" >0</text>
<line x1="76.90" y1="452.80" x2="80.50" y2="452.80" stroke="#2b2b2b" stroke-width="0.75"/>
<text x="81.90" y="455.40" font-size="8.6" stroke="#2b2b2b" stroke-width="0.22" textLength="8.1" lengthAdjust="spacingAndGlyphs">10</text>
<text x="90.60" y="450.90" font-size="5.6" stroke="#2b2b2b" stroke-width="0.18">3</text>
<line x1="105.50" y1="462.40" x2="105.50" y2="464.20" stroke="#333" stroke-width="0.8"/>
<line x1="132.00" y1="462.40" x2="132.00" y2="464.20" stroke="#333" stroke-width="0.8"/>
<line x1="143.00" y1="462.40" x2="143.00" y2="464.20" stroke="#333" stroke-width="0.8"/>
<line x1="166.50" y1="462.40" x2="166.50" y2="464.20" stroke="#333" stroke-width="0.8"/>
<line x1="190.00" y1="462.40" x2="190.00" y2="464.20" stroke="#333" stroke-width="0.8"/>
<line x1="110.00" y1="462.40" x2="110.00" y2="463.60" stroke="#333" stroke-width="0.5"/>
<line x1="115.00" y1="462.40" x2="115.00" y2="463.60" stroke="#333" stroke-width="0.5"/>
<line x1="120.00" y1="462.40" x2="120.00" y2="463.60" stroke="#333" stroke-width="0.5"/>
<line x1="126.00" y1="462.40" x2="126.00" y2="463.60" stroke="#333" stroke-width="0.5"/>
<line x1="136.00" y1="462.40" x2="136.00" y2="463.60" stroke="#333" stroke-width="0.5"/>
<line x1="139.00" y1="462.40" x2="139.00" y2="463.60" stroke="#333" stroke-width="0.5"/>
<line x1="150.00" y1="462.40" x2="150.00" y2="463.60" stroke="#333" stroke-width="0.5"/>
<line x1="155.00" y1="462.40" x2="155.00" y2="463.60" stroke="#333" stroke-width="0.5"/>
<line x1="158.00" y1="462.40" x2="158.00" y2="463.60" stroke="#333" stroke-width="0.5"/>
<line x1="161.00" y1="462.40" x2="161.00" y2="463.60" stroke="#333" stroke-width="0.5"/>
<line x1="163.00" y1="462.40" x2="163.00" y2="463.60" stroke="#333" stroke-width="0.5"/>
<line x1="172.00" y1="462.40" x2="172.00" y2="463.60" stroke="#333" stroke-width="0.5"/>
<line x1="176.00" y1="462.40" x2="176.00" y2="463.60" stroke="#333" stroke-width="0.5"/>
<line x1="179.00" y1="462.40" x2="179.00" y2="463.60" stroke="#333" stroke-width="0.5"/>
<line x1="182.00" y1="462.40" x2="182.00" y2="463.60" stroke="#333" stroke-width="0.5"/>
<line x1="184.00" y1="462.40" x2="184.00" y2="463.60" stroke="#333" stroke-width="0.5"/>
<line x1="186.00" y1="462.40" x2="186.00" y2="463.60" stroke="#333" stroke-width="0.5"/>
<line x1="194.00" y1="462.40" x2="194.00" y2="463.60" stroke="#333" stroke-width="0.5"/>
<rect x="119.6" y="462.0" width="2.6" height="2.0" fill="#111"/>
<line x1="97.20" y1="472.50" x2="100.80" y2="472.50" stroke="#2b2b2b" stroke-width="0.75"/>
<text x="102.20" y="475.10" font-size="8.6" stroke="#2b2b2b" stroke-width="0.22" textLength="8.1" lengthAdjust="spacingAndGlyphs">10</text>
<text x="110.90" y="470.60" font-size="5.6" stroke="#2b2b2b" stroke-width="0.18">3</text>
<text x="120.50" y="475.10" font-size="8.6" stroke="#2b2b2b" stroke-width="0.22" textLength="4.00" lengthAdjust="spacingAndGlyphs" >0</text>
<text x="132.00" y="475.10" font-size="8.6" stroke="#2b2b2b" stroke-width="0.22" textLength="8.1" lengthAdjust="spacingAndGlyphs">10</text>
<text x="140.70" y="470.60" font-size="5.6" stroke="#2b2b2b" stroke-width="0.18">3</text>
<text x="161.60" y="475.10" font-size="8.6" stroke="#2b2b2b" stroke-width="0.22" textLength="8.1" lengthAdjust="spacingAndGlyphs">10</text>
<text x="170.30" y="470.60" font-size="5.6" stroke="#2b2b2b" stroke-width="0.18">4</text>
<text x="185.00" y="475.10" font-size="8.6" stroke="#2b2b2b" stroke-width="0.22" textLength="8.1" lengthAdjust="spacingAndGlyphs">10</text>
<text x="193.70" y="470.60" font-size="5.6" stroke="#2b2b2b" stroke-width="0.18">5</text>
<line x1="72.50" y1="454.00" x2="72.50" y2="406.00" stroke="#111" stroke-width="1.1"/>
<path d="M69.90,408.00 L75.10,408.00 L72.50,402.00 Z" fill="#111"/>
<line x1="99.50" y1="482.50" x2="147.30" y2="482.50" stroke="#111" stroke-width="1.1"/>
<path d="M145.30,479.90 L145.30,485.10 L151.30,482.50 Z" fill="#111"/>
<text x="64.60" y="427.70" font-size="9.8" text-anchor="middle" stroke="#2b2b2b" stroke-width="0.22" textLength="45.60" lengthAdjust="spacingAndGlyphs" transform="rotate(-90 64.60 427.70)" >CD11c-PECy7</text>
<text x="125.50" y="497.60" font-size="9.9" text-anchor="middle" stroke="#2b2b2b" stroke-width="0.22" textLength="40.40" lengthAdjust="spacingAndGlyphs" >CD11b-APC</text>
<text x="280.80" y="358.70" font-size="10.2" text-anchor="middle" stroke="#2b2b2b" stroke-width="0.22" textLength="17.50" lengthAdjust="spacingAndGlyphs" >CV1</text>
<rect x="233.70" y="366.70" width="98.00" height="96.30" fill="none" stroke="#8a8a8a" stroke-width="0.8"/>
<line x1="233.70" y1="366.70" x2="233.70" y2="463.00" stroke="#6a6a6a" stroke-width="1.0"/>
<line x1="233.70" y1="463.00" x2="331.70" y2="463.00" stroke="#6a6a6a" stroke-width="1.0"/>
<path d="M273.8,437.3 L272.8,437.3 L272.0,437.0 L271.8,436.8 L271.8,436.5 L271.9,436.0 L272.6,435.0 L273.4,434.2 L274.2,433.9 L274.8,433.9 L275.2,434.0 L275.5,434.2 L275.7,434.8 L275.8,435.4 L275.6,436.0 L275.2,436.5 L274.8,436.9 L273.8,437.3" fill="none" stroke="rgb(190, 190, 190)" stroke-width="0.55"/>
<path d="M270.8,439.3 L270.0,439.3 L269.5,439.2 L269.0,439.0 L268.2,438.5 L267.9,438.0 L267.7,437.5 L267.8,437.0 L268.1,436.5 L269.3,435.5 L273.5,433.1 L274.5,432.8 L275.2,432.8 L276.0,432.9 L276.5,433.2 L276.8,433.5 L276.9,434.0 L277.0,435.2 L276.7,436.5 L276.2,437.2 L275.5,437.8 L274.5,438.2 L270.8,439.3" fill="none" stroke="rgb(182, 182, 182)" stroke-width="0.55"/>
<path d="M271.0,440.3 L270.0,440.3 L268.8,440.1 L267.5,439.6 L266.7,439.0 L266.2,438.5 L265.9,437.8 L265.9,437.0 L266.4,436.2 L267.2,435.5 L269.0,434.3 L273.5,432.1 L274.8,431.8 L276.0,431.7 L277.0,431.8 L277.8,432.2 L278.2,432.8 L278.4,433.8 L278.2,436.2 L277.9,437.0 L277.6,437.5 L276.8,438.2 L275.7,438.8 L272.0,440.0 L271.0,440.3" fill="none" stroke="rgb(174, 174, 174)" stroke-width="0.55"/>
<path d="M270.8,441.0 L269.5,441.0 L268.0,440.7 L266.5,440.1 L265.5,439.5 L265.0,438.8 L264.7,437.8 L264.8,436.8 L265.3,436.0 L266.5,435.0 L269.0,433.4 L272.2,431.8 L273.8,431.2 L275.5,430.8 L277.0,430.8 L278.2,431.1 L279.3,431.8 L279.7,432.2 L280.0,432.8 L280.1,433.8 L279.3,436.5 L279.0,437.2 L278.4,438.0 L277.5,438.8 L276.5,439.3 L272.2,440.7 L270.8,441.0" fill="none" stroke="rgb(166, 166, 166)" stroke-width="0.55"/>
<path d="M271.8,441.5 L270.0,441.7 L268.2,441.6 L266.2,441.0 L264.8,440.3 L264.4,440.0 L264.0,439.5 L263.7,438.2 L263.7,437.2 L264.0,436.2 L264.5,435.7 L265.3,435.0 L268.5,432.9 L271.5,431.4 L273.5,430.6 L275.5,430.1 L277.5,430.0 L279.0,430.4 L279.8,430.8 L280.5,431.2 L281.2,432.0 L281.5,432.5 L281.7,433.2 L281.7,434.0 L281.4,434.8 L280.8,436.0 L279.4,438.0 L278.5,438.9 L277.5,439.6 L273.0,441.2 L271.8,441.5" fill="none" stroke="rgb(158, 158, 158)" stroke-width="0.55"/>
<path d="M270.8,442.3 L268.8,442.4 L267.2,442.2 L264.8,441.5 L264.0,441.1 L263.5,440.8 L263.1,440.2 L262.9,439.8 L262.6,438.0 L262.8,436.8 L263.4,435.8 L264.0,435.2 L264.9,434.5 L269.0,431.9 L272.0,430.5 L274.2,429.7 L275.5,429.5 L276.8,429.3 L278.8,429.5 L280.2,430.0 L281.0,430.5 L281.8,431.1 L282.3,431.8 L282.7,432.5 L282.9,433.2 L282.8,434.0 L282.4,435.0 L281.7,436.2 L281.0,437.2 L280.1,438.2 L278.8,439.5 L277.5,440.2 L272.8,441.9 L270.8,442.3" fill="none" stroke="rgb(150, 150, 150)" stroke-width="0.55"/>
<path d="M269.8,443.0 L268.0,443.2 L266.2,442.9 L263.5,442.1 L262.8,441.6 L262.2,441.2 L261.9,440.8 L261.6,440.0 L261.5,439.0 L261.6,438.0 L261.7,437.2 L262.0,436.5 L262.4,435.8 L263.0,435.1 L264.2,434.2 L269.2,431.1 L272.2,429.7 L274.8,428.9 L277.2,428.6 L279.2,428.8 L280.2,429.1 L281.1,429.5 L282.0,430.1 L282.8,430.8 L283.4,431.5 L283.7,432.2 L283.9,433.2 L283.8,434.0 L283.4,435.0 L282.5,436.5 L281.8,437.5 L281.1,438.2 L279.0,440.0 L277.8,440.7 L272.8,442.5 L271.5,442.8 L269.8,443.0" fill="none" stroke="rgb(142, 142, 142)" stroke-width="0.55"/>
<path d="M269.8,443.8 L268.5,444.0 L267.5,444.0 L265.0,443.6 L262.2,442.6 L261.5,442.2 L260.8,441.5 L260.4,441.0 L260.2,440.2 L260.1,439.5 L260.3,438.5 L260.6,437.5 L261.0,436.5 L261.7,435.5 L262.4,434.8 L263.8,433.7 L269.2,430.3 L272.5,428.8 L275.2,428.0 L276.2,427.8 L277.5,427.8 L278.8,427.8 L279.8,428.1 L280.8,428.4 L282.2,429.1 L283.2,429.7 L283.8,430.2 L284.4,431.0 L284.8,432.0 L285.0,433.0 L285.0,433.8 L284.7,434.5 L284.3,435.2 L282.8,437.5 L282.0,438.4 L279.5,440.4 L278.2,441.2 L273.0,443.1 L269.8,443.8" fill="none" stroke="rgb(134, 134, 134)" stroke-width="0.55"/>
<path d="M268.0,444.8 L265.2,444.6 L263.2,444.1 L261.2,443.4 L260.5,443.0 L259.9,442.5 L259.3,441.8 L259.0,441.0 L258.8,440.2 L258.8,439.5 L259.1,438.5 L259.6,437.2 L260.4,436.0 L261.1,435.0 L262.0,434.1 L263.0,433.4 L268.0,430.1 L272.5,427.9 L276.0,426.6 L276.8,426.5 L277.8,426.5 L278.8,426.7 L279.8,426.9 L283.5,428.6 L284.2,429.0 L285.0,429.7 L285.5,430.5 L286.0,431.8 L286.2,432.8 L286.1,433.8 L285.9,434.5 L285.4,435.2 L283.4,438.0 L282.4,439.0 L279.8,441.1 L278.2,441.9 L272.8,443.9 L269.5,444.6 L268.0,444.8" fill="none" stroke="rgb(126, 126, 126)" stroke-width="0.55"/>
<path d="M269.2,445.3 L267.0,445.5 L264.8,445.3 L260.8,444.2 L259.8,443.8 L259.2,443.4 L258.8,442.8 L258.0,441.2 L257.8,440.0 L257.9,439.2 L258.1,438.5 L258.7,437.2 L259.7,435.8 L260.7,434.5 L261.8,433.5 L266.8,430.0 L270.0,428.2 L272.9,426.5 L273.6,426.0 L274.0,425.5 L274.2,425.0 L274.2,424.2 L273.8,423.5 L272.7,422.2 L272.5,421.8 L272.4,421.2 L272.5,420.5 L273.0,419.0 L273.1,418.2 L273.0,417.2 L272.6,415.2 L272.7,414.5 L273.0,414.0 L273.8,413.5 L275.5,413.3 L276.2,413.0 L278.0,411.8 L278.5,411.6 L279.2,411.5 L280.8,411.5 L282.0,411.7 L283.5,412.5 L284.5,413.2 L285.0,413.8 L285.2,414.8 L285.0,415.5 L284.7,416.0 L282.8,418.0 L282.1,419.0 L281.8,420.2 L281.5,422.8 L280.7,424.5 L280.6,425.2 L280.9,425.8 L281.4,426.2 L282.2,426.8 L284.8,428.0 L285.5,428.6 L286.0,429.2 L286.7,430.5 L287.2,432.0 L287.2,433.2 L287.0,434.2 L286.3,435.5 L283.4,439.0 L282.5,439.8 L279.8,441.8 L278.5,442.5 L273.2,444.4 L269.2,445.3" fill="none" stroke="rgb(118, 118, 118)" stroke-width="0.55"/>
<path d="M268.0,446.0 L266.0,446.1 L264.5,446.0 L260.0,444.9 L259.1,444.5 L258.5,444.0 L258.2,443.5 L257.2,441.5 L257.0,440.8 L256.9,440.0 L257.1,438.8 L257.5,437.8 L258.3,436.5 L259.7,434.8 L260.8,433.6 L262.0,432.6 L264.2,431.0 L266.2,429.3 L269.3,427.5 L270.1,426.8 L270.7,426.0 L270.8,425.5 L270.8,425.0 L269.7,422.8 L268.9,419.8 L268.8,418.5 L269.0,417.8 L270.3,414.0 L270.9,412.8 L271.8,411.3 L272.6,410.5 L274.5,409.5 L276.2,407.8 L277.0,407.2 L277.8,407.1 L278.8,407.0 L280.2,407.2 L281.2,407.4 L282.3,408.0 L284.0,409.6 L285.8,411.0 L286.5,411.9 L286.9,413.0 L287.1,414.8 L287.0,416.0 L286.5,417.0 L285.3,418.8 L284.3,421.2 L283.4,424.2 L283.3,425.0 L283.7,425.8 L286.2,427.8 L286.8,428.5 L287.2,429.2 L287.8,430.8 L288.0,432.0 L288.0,433.2 L287.8,434.2 L287.5,435.0 L287.0,435.8 L283.8,439.5 L282.8,440.4 L280.0,442.4 L278.5,443.1 L272.8,445.1 L270.0,445.8 L268.0,446.0" fill="none" stroke="rgb(110, 110, 110)" stroke-width="0.55"/>
<path d="M269.2,446.5 L266.5,446.7 L264.8,446.7 L260.0,445.9 L258.8,445.4 L258.1,445.0 L257.5,444.2 L256.9,443.2 L256.2,441.8 L255.9,441.0 L255.8,440.2 L255.9,439.5 L256.1,438.8 L256.5,437.8 L257.2,436.8 L259.4,434.0 L260.8,432.7 L263.8,430.2 L265.8,428.3 L267.2,427.0 L267.8,426.2 L267.9,425.8 L267.9,425.0 L266.3,419.5 L266.1,418.8 L266.1,418.0 L266.3,417.2 L267.5,415.3 L268.6,412.8 L270.1,410.0 L270.7,409.0 L271.5,408.2 L272.2,407.8 L274.0,406.7 L275.8,405.6 L276.8,405.2 L278.2,405.0 L280.2,404.9 L282.0,405.2 L283.4,405.5 L284.0,405.8 L284.8,406.3 L287.2,408.8 L287.9,409.8 L288.2,410.8 L288.5,414.5 L288.5,415.6 L288.3,416.8 L288.0,418.0 L286.8,420.3 L285.9,422.2 L285.6,423.2 L285.5,424.2 L285.6,425.0 L285.9,425.5 L287.2,427.0 L287.7,427.8 L288.3,429.5 L288.7,431.0 L288.8,432.2 L288.7,433.5 L288.4,434.8 L287.9,435.8 L287.4,436.5 L284.0,440.2 L283.0,441.1 L280.5,442.8 L278.8,443.6 L273.8,445.4 L271.2,446.1 L269.2,446.5" fill="none" stroke="rgb(102, 102, 102)" stroke-width="0.55"/>
<path d="M268.8,447.3 L266.2,447.4 L264.5,447.4 L259.8,446.8 L258.8,446.5 L258.0,446.1 L257.2,445.5 L256.6,444.8 L255.7,443.5 L255.0,442.2 L254.7,441.2 L254.6,440.5 L254.7,439.8 L255.0,438.8 L255.4,437.8 L255.9,437.0 L258.1,434.2 L259.2,433.1 L262.7,430.0 L263.5,429.0 L263.9,428.2 L264.2,427.5 L264.3,426.5 L264.2,425.2 L263.7,422.5 L263.8,420.0 L263.7,418.2 L263.8,417.5 L264.1,416.8 L264.9,415.2 L265.9,413.0 L267.2,410.9 L268.3,408.8 L268.9,408.0 L270.2,406.5 L271.2,405.7 L274.2,404.2 L275.5,403.7 L277.2,403.4 L280.8,403.1 L283.0,403.2 L284.5,403.5 L285.2,403.8 L286.0,404.4 L288.0,406.5 L288.8,407.8 L289.1,409.2 L289.4,414.5 L289.2,417.2 L288.9,419.0 L287.7,422.5 L287.5,423.8 L287.6,424.8 L288.8,427.8 L289.3,430.8 L289.4,432.0 L289.3,433.2 L289.1,434.5 L288.8,435.5 L288.3,436.5 L287.8,437.2 L284.6,440.8 L283.2,441.8 L280.8,443.4 L279.2,444.1 L273.5,446.1 L270.8,446.9 L268.8,447.3" fill="none" stroke="rgb(95, 95, 95)" stroke-width="0.55"/>
<path d="M314.0,443.3 L313.2,443.5 L312.5,443.5 L310.0,443.2 L309.5,442.9 L309.1,442.5 L309.0,442.0 L309.2,441.5 L309.5,441.0 L310.0,440.4 L312.5,438.5 L313.2,438.3 L314.0,438.5 L314.8,438.8 L315.3,439.2 L315.7,440.0 L316.0,441.2 L315.8,442.0 L315.4,442.5 L314.7,443.0 L314.0,443.3" fill="none" stroke="rgb(190, 190, 190)" stroke-width="0.55"/>
<path d="M314.0,444.5 L313.2,444.6 L312.2,444.7 L310.2,444.4 L309.2,444.2 L308.5,443.9 L308.0,443.5 L307.7,443.0 L307.5,442.5 L307.5,442.0 L307.6,441.2 L308.2,438.8 L308.7,438.0 L309.5,437.2 L311.8,435.9 L312.5,435.6 L313.0,435.6 L313.5,435.8 L315.5,436.9 L316.2,437.5 L316.8,438.2 L317.1,439.0 L317.7,441.0 L317.7,442.0 L317.5,442.5 L317.1,443.0 L315.9,443.8 L314.0,444.5" fill="none" stroke="rgb(182, 182, 182)" stroke-width="0.55"/>
<path d="M313.5,445.5 L312.2,445.6 L310.2,445.4 L309.2,445.2 L308.2,444.9 L307.2,444.2 L306.5,443.5 L306.1,442.8 L305.9,442.0 L306.0,441.2 L306.6,438.5 L307.1,437.5 L307.7,436.8 L308.5,436.1 L310.2,435.3 L312.0,434.2 L313.0,433.9 L313.5,434.0 L314.2,434.3 L316.0,435.2 L316.8,435.8 L317.5,436.9 L318.6,439.0 L318.9,440.0 L319.1,441.2 L319.1,442.0 L318.8,442.8 L318.5,443.3 L318.0,443.8 L316.8,444.4 L314.5,445.3 L313.5,445.5" fill="none" stroke="rgb(174, 174, 174)" stroke-width="0.55"/>
<path d="M313.2,446.3 L312.0,446.2 L309.5,446.0 L308.5,445.7 L307.3,445.2 L306.2,444.5 L305.1,443.5 L304.5,442.5 L304.2,441.5 L304.5,440.2 L305.2,438.5 L306.1,437.0 L307.1,435.8 L308.0,435.1 L309.9,434.2 L311.5,433.2 L312.0,433.0 L312.8,432.8 L313.5,432.9 L314.5,433.2 L316.8,434.2 L317.6,434.8 L318.0,435.3 L319.0,437.2 L320.2,439.2 L320.5,440.0 L320.6,440.5 L320.5,441.5 L320.0,442.8 L319.4,443.8 L318.8,444.5 L317.5,445.1 L314.5,446.0 L313.2,446.3" fill="none" stroke="rgb(166, 166, 166)" stroke-width="0.55"/>
<path d="M313.8,446.8 L312.2,446.8 L309.5,446.6 L308.2,446.4 L307.0,445.8 L305.5,445.0 L304.1,443.8 L303.2,442.5 L302.8,441.2 L303.0,440.0 L303.5,438.8 L304.4,437.2 L306.2,434.9 L307.1,434.2 L309.2,433.4 L311.2,432.1 L312.5,431.8 L313.5,431.9 L314.5,432.2 L317.2,433.4 L318.3,434.0 L319.0,434.8 L320.0,436.6 L321.3,438.5 L321.8,439.4 L321.9,440.2 L321.8,441.2 L321.4,442.2 L320.4,444.0 L319.5,445.0 L318.8,445.4 L318.0,445.7 L313.8,446.8" fill="none" stroke="rgb(158, 158, 158)" stroke-width="0.55"/>
<path d="M313.8,447.3 L312.2,447.3 L309.0,447.1 L307.6,446.8 L306.0,446.0 L304.5,445.1 L303.1,443.8 L302.3,442.5 L302.0,441.8 L301.8,441.0 L301.9,439.8 L302.4,438.2 L303.5,436.3 L305.0,434.2 L306.0,433.5 L308.5,432.5 L310.8,431.2 L311.5,431.0 L312.2,430.9 L313.5,430.9 L314.8,431.2 L318.2,432.9 L319.1,433.5 L319.8,434.2 L322.0,437.6 L322.5,438.7 L322.7,439.8 L322.7,441.0 L322.4,442.2 L321.4,444.0 L320.2,445.3 L319.5,445.8 L318.5,446.3 L315.0,447.1 L313.8,447.3" fill="none" stroke="rgb(150, 150, 150)" stroke-width="0.55"/>
<path d="M315.2,447.5 L313.2,447.7 L310.0,447.7 L308.8,447.6 L307.5,447.3 L305.9,446.8 L304.5,446.0 L303.2,445.0 L302.2,444.0 L301.5,442.8 L301.0,441.5 L300.8,440.2 L300.9,439.2 L301.4,437.5 L302.1,436.0 L303.4,434.0 L304.2,433.1 L305.0,432.7 L307.4,431.8 L310.5,430.2 L311.8,429.9 L313.2,429.8 L314.8,430.0 L315.8,430.3 L317.6,431.5 L319.2,432.4 L320.0,433.0 L320.4,433.5 L322.6,436.8 L323.2,438.2 L323.4,439.2 L323.5,440.5 L323.4,441.5 L323.1,442.5 L322.5,443.8 L321.8,444.8 L321.2,445.5 L320.2,446.2 L319.5,446.6 L318.5,446.9 L315.2,447.5" fill="none" stroke="rgb(142, 142, 142)" stroke-width="0.55"/>
<path d="M314.8,448.0 L312.5,448.1 L308.2,448.0 L306.0,447.5 L304.0,446.6 L303.1,446.0 L302.2,445.3 L301.1,443.8 L300.4,442.5 L299.9,441.2 L299.7,440.2 L299.7,439.5 L300.0,437.8 L300.7,436.0 L302.5,433.2 L303.2,432.5 L303.8,432.1 L306.5,430.8 L308.2,429.8 L310.0,429.2 L312.0,428.7 L315.2,428.5 L316.0,428.6 L316.8,429.0 L318.2,430.3 L320.2,431.8 L321.1,432.8 L323.1,435.8 L323.7,437.0 L324.1,438.5 L324.2,440.8 L324.0,442.2 L323.5,443.8 L322.4,445.2 L321.4,446.2 L320.2,447.0 L319.0,447.4 L317.8,447.7 L314.8,448.0" fill="none" stroke="rgb(134, 134, 134)" stroke-width="0.55"/>
<path d="M317.2,417.0 L316.2,417.1 L315.2,416.9 L313.5,415.8 L312.5,414.8 L312.0,413.8 L311.4,411.5 L311.4,410.8 L311.6,410.2 L311.8,409.9 L312.1,409.5 L312.8,409.3 L314.8,409.7 L317.2,409.7 L318.0,410.0 L318.5,410.5 L318.8,411.0 L319.0,411.7 L319.0,412.8 L318.1,416.2 L317.8,416.8 L317.2,417.0" fill="none" stroke="rgb(126, 126, 126)" stroke-width="0.55"/>
<path d="M314.0,420.3 L313.8,420.4 L313.3,420.2 L313.1,420.0 L313.0,419.5 L313.2,418.8 L313.5,418.4 L313.8,418.3 L314.0,418.3 L314.2,418.4 L314.4,419.0 L314.4,419.8 L314.2,420.1 L314.0,420.3" fill="none" stroke="rgb(126, 126, 126)" stroke-width="0.55"/>
<path d="M316.2,448.3 L313.5,448.4 L308.5,448.4 L305.8,448.0 L303.5,447.2 L302.6,446.8 L301.8,446.0 L300.8,445.0 L300.1,444.0 L299.4,442.8 L299.0,441.8 L298.7,440.8 L298.6,439.8 L298.6,438.8 L298.8,437.8 L299.0,436.8 L299.4,436.0 L301.8,432.5 L302.8,431.5 L303.5,431.0 L305.7,429.8 L307.8,428.4 L309.0,427.8 L310.2,427.5 L314.2,426.6 L315.2,426.5 L316.2,426.6 L317.0,427.0 L318.8,428.8 L320.5,430.2 L321.5,431.3 L322.6,433.0 L324.2,435.9 L324.7,437.2 L324.9,438.8 L324.9,441.5 L324.7,443.0 L324.1,444.2 L323.0,445.8 L322.0,446.8 L320.5,447.5 L318.8,448.0 L316.2,448.3" fill="none" stroke="rgb(126, 126, 126)" stroke-width="0.55"/>
<path d="M317.0,448.5 L313.5,448.7 L308.2,448.6 L305.0,448.2 L302.8,447.6 L302.0,447.2 L301.2,446.6 L300.4,445.8 L299.4,444.5 L298.5,442.8 L298.2,442.0 L298.0,440.8 L297.9,439.0 L298.0,437.5 L298.3,436.2 L299.0,435.0 L301.7,431.2 L302.8,430.3 L305.3,428.5 L306.4,427.5 L308.2,425.5 L309.0,424.2 L309.3,423.2 L309.4,422.0 L309.0,417.8 L308.4,415.0 L308.5,413.5 L308.7,411.8 L309.2,409.5 L309.9,408.0 L310.3,407.5 L310.8,407.1 L311.2,406.9 L312.0,406.7 L312.8,406.7 L315.0,407.0 L317.2,407.0 L318.2,407.2 L318.8,407.4 L319.3,408.0 L319.8,408.8 L320.5,410.2 L321.0,411.5 L321.1,412.5 L320.6,415.0 L320.3,417.2 L319.8,418.4 L318.3,420.0 L317.8,420.8 L317.4,422.0 L317.4,423.2 L317.7,424.0 L319.2,427.0 L321.9,430.0 L323.7,432.8 L324.9,435.2 L325.2,436.2 L325.4,437.2 L325.5,441.2 L325.4,442.8 L325.0,444.1 L324.2,445.5 L323.0,446.8 L322.4,447.2 L321.5,447.7 L319.5,448.2 L317.0,448.5" fill="none" stroke="rgb(118, 118, 118)" stroke-width="0.55"/>
<path d="M317.2,448.8 L313.8,448.9 L308.0,448.9 L304.0,448.4 L302.8,448.1 L301.7,447.8 L300.9,447.2 L299.8,446.2 L299.0,445.2 L298.3,444.2 L298.0,443.4 L297.8,442.3 L297.5,439.5 L297.5,438.0 L297.7,436.5 L298.0,435.5 L298.4,434.5 L300.8,431.0 L303.5,428.2 L304.5,427.0 L305.1,426.0 L306.7,422.5 L306.9,421.5 L306.4,419.0 L306.3,417.0 L306.1,414.5 L306.1,413.0 L306.5,411.5 L308.3,407.0 L308.8,406.2 L309.5,405.5 L310.0,405.1 L310.8,404.8 L311.8,404.6 L314.2,404.6 L315.8,404.0 L316.5,403.9 L317.2,404.0 L318.2,404.5 L319.5,405.3 L320.2,406.0 L320.8,406.8 L322.3,411.0 L322.5,411.8 L322.5,412.5 L322.0,415.0 L321.9,417.5 L321.7,418.5 L320.8,420.5 L320.5,421.8 L320.3,423.2 L320.3,425.0 L320.6,426.0 L320.9,426.8 L323.2,430.0 L324.8,433.0 L325.2,434.1 L325.6,435.8 L325.9,438.2 L325.9,442.0 L325.7,443.5 L325.3,445.0 L324.5,446.2 L323.4,447.2 L322.8,447.7 L322.0,448.0 L320.0,448.5 L317.2,448.8" fill="none" stroke="rgb(110, 110, 110)" stroke-width="0.55"/>
<path d="M317.2,449.0 L313.8,449.2 L308.0,449.1 L303.2,448.6 L302.0,448.4 L301.0,448.0 L300.1,447.5 L299.2,446.8 L298.5,446.0 L298.0,445.2 L297.8,444.5 L297.5,443.2 L297.2,440.2 L297.2,438.2 L297.3,436.5 L297.6,435.0 L298.2,433.3 L299.7,430.8 L301.9,428.0 L303.0,426.4 L303.8,424.9 L304.7,422.5 L304.8,421.5 L304.3,418.8 L304.3,416.8 L304.1,414.2 L304.2,412.5 L304.5,411.0 L305.9,408.2 L306.8,405.8 L307.2,405.0 L307.9,404.2 L309.2,402.9 L310.2,402.2 L311.5,401.6 L314.2,400.8 L315.0,400.7 L315.8,400.7 L316.5,401.0 L317.5,401.6 L319.0,402.6 L321.5,404.7 L322.1,405.5 L322.4,406.2 L322.8,408.0 L323.6,410.5 L323.8,412.2 L323.6,414.8 L323.7,417.5 L322.6,421.8 L322.3,423.8 L322.3,425.5 L322.7,427.0 L324.8,430.8 L325.4,432.2 L325.9,434.8 L326.2,437.2 L326.2,441.8 L326.1,443.5 L325.8,445.3 L325.4,446.0 L325.0,446.7 L324.0,447.6 L322.6,448.2 L320.5,448.7 L317.2,449.0" fill="none" stroke="rgb(102, 102, 102)" stroke-width="0.55"/>
<path d="M317.2,449.3 L313.5,449.4 L307.5,449.3 L302.5,448.8 L301.2,448.6 L300.0,448.2 L299.2,447.8 L298.5,447.3 L298.1,446.8 L297.8,446.2 L297.4,445.2 L297.2,444.0 L296.9,440.5 L296.9,438.0 L297.0,436.0 L297.5,433.5 L298.1,431.2 L299.0,429.4 L301.8,425.0 L302.3,424.0 L302.6,422.8 L302.8,421.2 L302.4,418.5 L302.3,416.5 L302.3,415.0 L302.8,411.2 L303.2,409.5 L304.2,407.1 L304.9,405.0 L305.3,404.2 L306.0,403.5 L308.5,401.1 L309.8,400.2 L310.5,399.8 L311.5,399.4 L313.8,398.9 L315.0,398.7 L316.0,398.8 L316.8,399.1 L318.2,399.9 L319.5,400.8 L320.8,401.9 L323.0,404.2 L323.6,405.0 L324.0,406.0 L324.8,409.4 L325.0,411.0 L324.9,414.8 L325.0,417.2 L324.9,418.5 L324.4,420.8 L324.0,423.4 L323.9,425.5 L324.2,426.8 L325.2,429.6 L325.9,431.8 L326.3,434.5 L326.5,437.0 L326.6,442.0 L326.4,444.0 L326.0,446.0 L325.4,447.2 L324.5,448.0 L323.0,448.6 L320.0,449.0 L317.2,449.3" fill="none" stroke="rgb(95, 95, 95)" stroke-width="0.55"/>
<path d="M234.00,424.0 L234.00,366.70 L291.0,366.70 L291.0,464.9 L333.5,464.9 L333.5,424.0 Z" fill="none" stroke="#2a2478" stroke-width="1.6"/>
<line x1="233.70" y1="424.00" x2="334.20" y2="424.00" stroke="#2a2478" stroke-width="1.6"/>
<text x="238.80" y="374.70" font-size="6.5" stroke="#2b2b2b" stroke-width="0.22" textLength="7.30" lengthAdjust="spacingAndGlyphs" >Q1</text>
<text x="237.10" y="381.60" font-size="6.5" stroke="#2b2b2b" stroke-width="0.22" textLength="11.90" lengthAdjust="spacingAndGlyphs" >7.78</text>
<text x="317.00" y="374.70" font-size="6.5" stroke="#2b2b2b" stroke-width="0.22" textLength="7.90" lengthAdjust="spacingAndGlyphs" >Q2</text>
<text x="316.20" y="381.60" font-size="6.5" stroke="#2b2b2b" stroke-width="0.22" textLength="10.60" lengthAdjust="spacingAndGlyphs" >12.3</text>
<text x="238.80" y="453.30" font-size="6.5" stroke="#2b2b2b" stroke-width="0.22" textLength="7.90" lengthAdjust="spacingAndGlyphs" >Q4</text>
<text x="237.10" y="460.60" font-size="6.5" stroke="#2b2b2b" stroke-width="0.22" textLength="11.70" lengthAdjust="spacingAndGlyphs" >23.9</text>
<text x="317.00" y="453.50" font-size="6.5" stroke="#2b2b2b" stroke-width="0.22" textLength="7.70" lengthAdjust="spacingAndGlyphs" >Q3</text>
<text x="315.30" y="460.80" font-size="6.5" stroke="#2b2b2b" stroke-width="0.22" textLength="11.50" lengthAdjust="spacingAndGlyphs" >56.0</text>
<line x1="231.50" y1="376.20" x2="233.70" y2="376.20" stroke="#333" stroke-width="0.8"/>
<line x1="231.50" y1="398.60" x2="233.70" y2="398.60" stroke="#333" stroke-width="0.8"/>
<line x1="231.50" y1="421.00" x2="233.70" y2="421.00" stroke="#333" stroke-width="0.8"/>
<line x1="232.40" y1="383.00" x2="233.70" y2="383.00" stroke="#333" stroke-width="0.5"/>
<line x1="232.40" y1="387.50" x2="233.70" y2="387.50" stroke="#333" stroke-width="0.5"/>
<line x1="232.40" y1="390.50" x2="233.70" y2="390.50" stroke="#333" stroke-width="0.5"/>
<line x1="232.40" y1="393.00" x2="233.70" y2="393.00" stroke="#333" stroke-width="0.5"/>
<line x1="232.40" y1="395.00" x2="233.70" y2="395.00" stroke="#333" stroke-width="0.5"/>
<line x1="232.40" y1="397.00" x2="233.70" y2="397.00" stroke="#333" stroke-width="0.5"/>
<line x1="232.40" y1="405.00" x2="233.70" y2="405.00" stroke="#333" stroke-width="0.5"/>
<line x1="232.40" y1="409.50" x2="233.70" y2="409.50" stroke="#333" stroke-width="0.5"/>
<line x1="232.40" y1="412.50" x2="233.70" y2="412.50" stroke="#333" stroke-width="0.5"/>
<line x1="232.40" y1="415.00" x2="233.70" y2="415.00" stroke="#333" stroke-width="0.5"/>
<line x1="232.40" y1="417.00" x2="233.70" y2="417.00" stroke="#333" stroke-width="0.5"/>
<line x1="232.40" y1="419.00" x2="233.70" y2="419.00" stroke="#333" stroke-width="0.5"/>
<line x1="232.40" y1="432.00" x2="233.70" y2="432.00" stroke="#333" stroke-width="0.5"/>
<line x1="232.40" y1="439.00" x2="233.70" y2="439.00" stroke="#333" stroke-width="0.5"/>
<line x1="232.40" y1="446.00" x2="233.70" y2="446.00" stroke="#333" stroke-width="0.5"/>
<line x1="232.40" y1="453.00" x2="233.70" y2="453.00" stroke="#333" stroke-width="0.5"/>
<line x1="232.40" y1="459.00" x2="233.70" y2="459.00" stroke="#333" stroke-width="0.5"/>
<rect x="231.7" y="438.2" width="2.4" height="4.6" fill="#111"/>
<text x="215.90" y="379.80" font-size="8.6" stroke="#2b2b2b" stroke-width="0.22" textLength="8.1" lengthAdjust="spacingAndGlyphs">10</text>
<text x="224.60" y="375.30" font-size="5.6" stroke="#2b2b2b" stroke-width="0.18">5</text>
<text x="218.30" y="401.10" font-size="8.6" stroke="#2b2b2b" stroke-width="0.22" textLength="8.1" lengthAdjust="spacingAndGlyphs">10</text>
<text x="227.00" y="396.60" font-size="5.6" stroke="#2b2b2b" stroke-width="0.18">4</text>
<text x="219.50" y="420.60" font-size="8.6" stroke="#2b2b2b" stroke-width="0.22" textLength="8.1" lengthAdjust="spacingAndGlyphs">10</text>
<text x="228.20" y="416.10" font-size="5.6" stroke="#2b2b2b" stroke-width="0.18">3</text>
<text x="223.90" y="443.30" font-size="8.6" stroke="#2b2b2b" stroke-width="0.22" textLength="4.00" lengthAdjust="spacingAndGlyphs" >0</text>
<line x1="211.80" y1="453.20" x2="215.40" y2="453.20" stroke="#2b2b2b" stroke-width="0.75"/>
<text x="216.80" y="455.80" font-size="8.6" stroke="#2b2b2b" stroke-width="0.22" textLength="8.1" lengthAdjust="spacingAndGlyphs">10</text>
<text x="225.50" y="451.30" font-size="5.6" stroke="#2b2b2b" stroke-width="0.18">3</text>
<line x1="240.50" y1="463.00" x2="240.50" y2="464.80" stroke="#333" stroke-width="0.8"/>
<line x1="266.00" y1="463.00" x2="266.00" y2="464.80" stroke="#333" stroke-width="0.8"/>
<line x1="276.50" y1="463.00" x2="276.50" y2="464.80" stroke="#333" stroke-width="0.8"/>
<line x1="300.50" y1="463.00" x2="300.50" y2="464.80" stroke="#333" stroke-width="0.8"/>
<line x1="324.00" y1="463.00" x2="324.00" y2="464.80" stroke="#333" stroke-width="0.8"/>
<line x1="245.00" y1="463.00" x2="245.00" y2="464.20" stroke="#333" stroke-width="0.5"/>
<line x1="250.00" y1="463.00" x2="250.00" y2="464.20" stroke="#333" stroke-width="0.5"/>
<line x1="254.00" y1="463.00" x2="254.00" y2="464.20" stroke="#333" stroke-width="0.5"/>
<line x1="259.00" y1="463.00" x2="259.00" y2="464.20" stroke="#333" stroke-width="0.5"/>
<line x1="270.00" y1="463.00" x2="270.00" y2="464.20" stroke="#333" stroke-width="0.5"/>
<line x1="273.00" y1="463.00" x2="273.00" y2="464.20" stroke="#333" stroke-width="0.5"/>
<line x1="284.00" y1="463.00" x2="284.00" y2="464.20" stroke="#333" stroke-width="0.5"/>
<line x1="289.00" y1="463.00" x2="289.00" y2="464.20" stroke="#333" stroke-width="0.5"/>
<line x1="292.00" y1="463.00" x2="292.00" y2="464.20" stroke="#333" stroke-width="0.5"/>
<line x1="295.00" y1="463.00" x2="295.00" y2="464.20" stroke="#333" stroke-width="0.5"/>
<line x1="297.00" y1="463.00" x2="297.00" y2="464.20" stroke="#333" stroke-width="0.5"/>
<line x1="306.00" y1="463.00" x2="306.00" y2="464.20" stroke="#333" stroke-width="0.5"/>
<line x1="310.00" y1="463.00" x2="310.00" y2="464.20" stroke="#333" stroke-width="0.5"/>
<line x1="313.00" y1="463.00" x2="313.00" y2="464.20" stroke="#333" stroke-width="0.5"/>
<line x1="316.00" y1="463.00" x2="316.00" y2="464.20" stroke="#333" stroke-width="0.5"/>
<line x1="318.00" y1="463.00" x2="318.00" y2="464.20" stroke="#333" stroke-width="0.5"/>
<line x1="320.00" y1="463.00" x2="320.00" y2="464.20" stroke="#333" stroke-width="0.5"/>
<line x1="328.00" y1="463.00" x2="328.00" y2="464.20" stroke="#333" stroke-width="0.5"/>
<rect x="254.4" y="462.6" width="2.6" height="2.0" fill="#111"/>
<line x1="231.20" y1="473.70" x2="234.80" y2="473.70" stroke="#2b2b2b" stroke-width="0.75"/>
<text x="236.20" y="476.30" font-size="8.6" stroke="#2b2b2b" stroke-width="0.22" textLength="8.1" lengthAdjust="spacingAndGlyphs">10</text>
<text x="244.90" y="471.80" font-size="5.6" stroke="#2b2b2b" stroke-width="0.18">3</text>
<text x="256.00" y="476.30" font-size="8.6" stroke="#2b2b2b" stroke-width="0.22" textLength="4.00" lengthAdjust="spacingAndGlyphs" >0</text>
<text x="268.20" y="476.30" font-size="8.6" stroke="#2b2b2b" stroke-width="0.22" textLength="8.1" lengthAdjust="spacingAndGlyphs">10</text>
<text x="276.90" y="471.80" font-size="5.6" stroke="#2b2b2b" stroke-width="0.18">3</text>
<text x="297.30" y="476.30" font-size="8.6" stroke="#2b2b2b" stroke-width="0.22" textLength="8.1" lengthAdjust="spacingAndGlyphs">10</text>
<text x="306.00" y="471.80" font-size="5.6" stroke="#2b2b2b" stroke-width="0.18">4</text>
<text x="321.00" y="476.30" font-size="8.6" stroke="#2b2b2b" stroke-width="0.22" textLength="8.1" lengthAdjust="spacingAndGlyphs">10</text>
<text x="329.70" y="471.80" font-size="5.6" stroke="#2b2b2b" stroke-width="0.18">5</text>
<text x="359.00" y="348.50" font-size="12" font-weight="bold" fill="#111" >F</text>
<text x="365.00" y="363.30" font-size="9.7" stroke="#2b2b2b" stroke-width="0.22" textLength="90.80" lengthAdjust="spacingAndGlyphs" >CD11b:CD11c Ratio</text>
<line x1="387.45" y1="384.00" x2="387.45" y2="460.20" stroke="#1a1a1a" stroke-width="1.3"/>
<line x1="384.80" y1="460.00" x2="387.30" y2="460.00" stroke="#111" stroke-width="1.0"/>
<text x="381.40" y="462.80" font-size="7.8" text-anchor="end" stroke="#2b2b2b" stroke-width="0.22" textLength="4.20" lengthAdjust="spacingAndGlyphs" >0</text>
<line x1="384.80" y1="441.60" x2="387.30" y2="441.60" stroke="#111" stroke-width="1.0"/>
<text x="381.40" y="444.40" font-size="7.8" text-anchor="end" stroke="#2b2b2b" stroke-width="0.22" textLength="4.20" lengthAdjust="spacingAndGlyphs" >2</text>
<line x1="384.80" y1="423.20" x2="387.30" y2="423.20" stroke="#111" stroke-width="1.0"/>
<text x="381.40" y="426.00" font-size="7.8" text-anchor="end" stroke="#2b2b2b" stroke-width="0.22" textLength="4.20" lengthAdjust="spacingAndGlyphs" >4</text>
<line x1="384.80" y1="404.80" x2="387.30" y2="404.80" stroke="#111" stroke-width="1.0"/>
<text x="381.40" y="407.60" font-size="7.8" text-anchor="end" stroke="#2b2b2b" stroke-width="0.22" textLength="4.20" lengthAdjust="spacingAndGlyphs" >6</text>
<line x1="384.80" y1="386.40" x2="387.30" y2="386.40" stroke="#111" stroke-width="1.0"/>
<text x="381.40" y="389.20" font-size="7.8" text-anchor="end" stroke="#2b2b2b" stroke-width="0.22" textLength="4.20" lengthAdjust="spacingAndGlyphs" >8</text>
<text x="369.90" y="421.50" font-size="7.6" text-anchor="middle" stroke="#2b2b2b" stroke-width="0.22" textLength="17.00" lengthAdjust="spacingAndGlyphs" transform="rotate(-90 369.90 421.50)" >Ratio</text>
<rect x="393.2" y="435.0" width="8.6" height="25.0" fill="#b9cc95" stroke="#a6ba82" stroke-width="0.5"/>
<rect x="407.7" y="440.0" width="8.6" height="20.0" fill="#cc0a2c" stroke="#b00020" stroke-width="0.5"/>
<rect x="422.3" y="407.8" width="8.4" height="52.2" fill="#1c4e94" stroke="#173f7a" stroke-width="0.5"/>
<line x1="384.00" y1="459.50" x2="435.00" y2="459.50" stroke="#1a1a1a" stroke-width="1.3"/>
<line x1="397.20" y1="459.50" x2="397.20" y2="462.60" stroke="#222" stroke-width="0.9"/>
<line x1="411.70" y1="459.50" x2="411.70" y2="462.60" stroke="#222" stroke-width="0.9"/>
<line x1="426.40" y1="459.50" x2="426.40" y2="462.60" stroke="#222" stroke-width="0.9"/>
<line x1="397.50" y1="428.70" x2="397.50" y2="435.00" stroke="#222" stroke-width="0.8"/>
<line x1="395.90" y1="428.70" x2="399.30" y2="428.70" stroke="#222" stroke-width="0.8"/>
<line x1="412.00" y1="432.00" x2="412.00" y2="440.00" stroke="#222" stroke-width="0.8"/>
<line x1="410.40" y1="432.00" x2="413.80" y2="432.00" stroke="#222" stroke-width="0.8"/>
<line x1="426.50" y1="391.70" x2="426.50" y2="407.80" stroke="#444" stroke-width="0.8"/>
<line x1="424.60" y1="391.70" x2="428.60" y2="391.70" stroke="#444" stroke-width="0.8"/>
<circle cx="397.60" cy="430.40" r="0.9" fill="#111"/>
<circle cx="397.00" cy="437.90" r="0.9" fill="#111"/>
<circle cx="397.60" cy="440.00" r="0.9" fill="#111"/>
<circle cx="397.20" cy="434.00" r="0.9" fill="#111"/>
<circle cx="411.50" cy="435.40" r="0.9" fill="#333"/>
<circle cx="411.50" cy="447.10" r="0.9" fill="#333"/>
<circle cx="412.20" cy="443.00" r="0.9" fill="#333"/>
<circle cx="423.90" cy="394.80" r="0.9" fill="#222"/>
<circle cx="429.00" cy="394.30" r="0.9" fill="#222"/>
<circle cx="426.60" cy="425.30" r="0.9" fill="#222"/>
<line x1="394.80" y1="374.80" x2="428.70" y2="374.80" stroke="#2a2a2a" stroke-width="1.1"/>
<path d="M411.90,367.35 L412.49,368.89 L414.13,368.97 L412.85,370.01 L413.28,371.60 L411.90,370.70 L410.52,371.60 L410.95,370.01 L409.67,368.97 L411.31,368.89 Z" fill="#1a1a1a"/>
<line x1="412.50" y1="385.20" x2="430.40" y2="385.20" stroke="#2a2a2a" stroke-width="1.1"/>
<path d="M419.10,377.45 L419.69,378.99 L421.33,379.07 L420.05,380.11 L420.48,381.70 L419.10,380.80 L417.72,381.70 L418.15,380.11 L416.87,379.07 L418.51,378.99 Z" fill="#1a1a1a"/>
<path d="M423.80,377.45 L424.39,378.99 L426.03,379.07 L424.75,380.11 L425.18,381.70 L423.80,380.80 L422.42,381.70 L422.85,380.11 L421.57,379.07 L423.21,378.99 Z" fill="#1a1a1a"/>
<line x1="396.40" y1="419.30" x2="413.50" y2="419.30" stroke="#222" stroke-width="0.9"/>
<text x="404.80" y="417.60" font-size="7.0" text-anchor="middle" stroke="#2b2b2b" stroke-width="0.22" textLength="11.90" lengthAdjust="spacingAndGlyphs" >n.s.</text>
<rect x="0.5" y="0.5" width="519" height="506" fill="none" stroke="#585858" stroke-width="1.2"/>
<rect x="0" y="505" width="520" height="1" fill="#585858" opacity="0.45"/>
<rect x="518" y="0" width="1" height="507" fill="#585858" opacity="0.25"/>
</svg></body></html>
